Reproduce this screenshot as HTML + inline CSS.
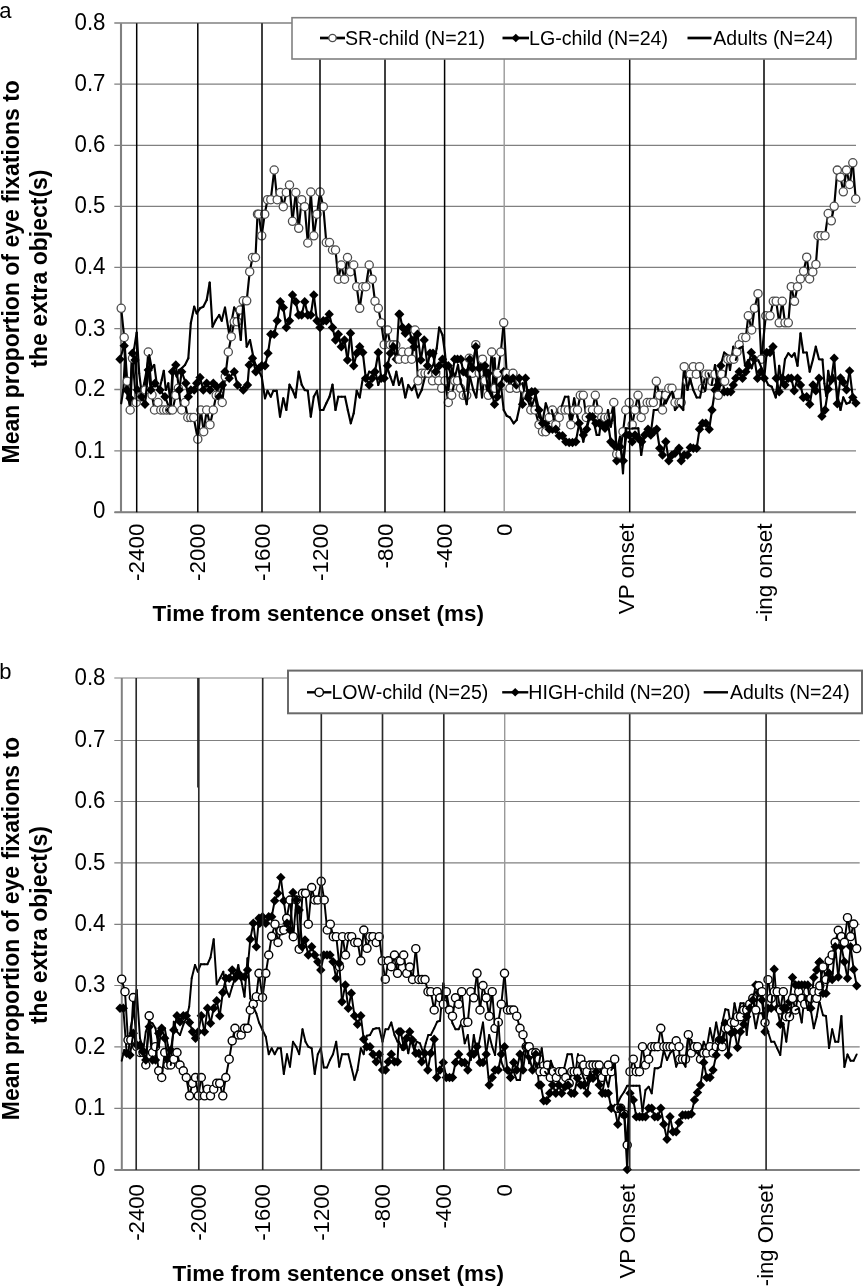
<!DOCTYPE html>
<html><head><meta charset="utf-8"><title>Figure</title>
<style>
html,body{margin:0;padding:0;background:#fff}
svg{display:block}
.g{stroke:#808080;stroke-width:1.5;fill:none}
.gv{stroke:#999;stroke-width:1.4;fill:none}
.ka{stroke:#000;stroke-width:1.5;fill:none}
.kb{stroke:#2a2a2a;stroke-width:1.65;fill:none}
.t{font-family:"Liberation Sans",Arial,Helvetica,sans-serif;font-size:22px;fill:#000}
.t23{font-family:"Liberation Sans",Arial,Helvetica,sans-serif;font-size:23px;fill:#000}
.lt{font-family:"Liberation Sans",Arial,Helvetica,sans-serif;font-size:19.6px;fill:#000}
.b{font-family:"Liberation Sans",Arial,Helvetica,sans-serif;font-size:22.3px;font-weight:bold;fill:#000}
.by{font-family:"Liberation Sans",Arial,Helvetica,sans-serif;font-size:23px;font-weight:bold;fill:#000}
.ga{stroke:#808080;stroke-width:1.3;fill:none}
.gb{stroke:#808080;stroke-width:1.2;fill:none}
.sa path,.sb path{stroke:#000;fill:none;stroke-linecap:round}
.sa path{stroke-width:2.15}
.sb path{stroke-width:1.95}
.sa path.d,.sb path.d{fill:#000;stroke:none}
.sa circle{fill:#fff;stroke:#4d4d4d;stroke-width:1.3}
.sb circle{fill:#fff;stroke:#000;stroke-width:1.4}
.lna{stroke:#000;stroke-width:2.2;fill:none;stroke-linejoin:round}
.lnb{stroke:#000;stroke-width:1.7;fill:none;stroke-linejoin:round}
.cia circle{fill:#fff;stroke:#4d4d4d;stroke-width:1.3}
.cib circle{fill:#fff;stroke:#000;stroke-width:1.4}
.di path{fill:#000;stroke:none}
</style></head><body>
<svg width="864" height="1287" viewBox="0 0 864 1287">
<rect width="864" height="1287" fill="#fff"/>
<g id="chart-a">
<line x1="114.3" y1="512.30" x2="856" y2="512.30" class="ga"/>
<line x1="114.3" y1="450.80" x2="856" y2="450.80" class="ga"/>
<line x1="114.3" y1="389.50" x2="856" y2="389.50" class="ga"/>
<line x1="114.3" y1="328.70" x2="856" y2="328.70" class="ga"/>
<line x1="114.3" y1="267.40" x2="856" y2="267.40" class="ga"/>
<line x1="114.3" y1="206.40" x2="856" y2="206.40" class="ga"/>
<line x1="114.3" y1="145.40" x2="856" y2="145.40" class="ga"/>
<line x1="114.3" y1="84.20" x2="856" y2="84.20" class="ga"/>
<line x1="114.3" y1="23.00" x2="856" y2="23.00" class="ga"/>
<line x1="121.0" y1="23.3" x2="121.0" y2="512.3" class="ga" style="stroke-width:2.1"/>
<line x1="114.5" y1="512.3" x2="856" y2="512.3" class="ga" style="stroke-width:2.1"/>
<line x1="504.2" y1="23.3" x2="504.2" y2="512.3" class="gv"/>
<text x="105.5" y="518.40" class="t23" text-anchor="end" textLength="12.4" lengthAdjust="spacingAndGlyphs">0</text>
<text x="105.5" y="457.60" class="t23" text-anchor="end" textLength="31.0" lengthAdjust="spacingAndGlyphs">0.1</text>
<text x="105.5" y="396.30" class="t23" text-anchor="end" textLength="31.0" lengthAdjust="spacingAndGlyphs">0.2</text>
<text x="105.5" y="335.50" class="t23" text-anchor="end" textLength="31.0" lengthAdjust="spacingAndGlyphs">0.3</text>
<text x="105.5" y="274.20" class="t23" text-anchor="end" textLength="31.0" lengthAdjust="spacingAndGlyphs">0.4</text>
<text x="105.5" y="213.20" class="t23" text-anchor="end" textLength="31.0" lengthAdjust="spacingAndGlyphs">0.5</text>
<text x="105.5" y="152.20" class="t23" text-anchor="end" textLength="31.0" lengthAdjust="spacingAndGlyphs">0.6</text>
<text x="105.5" y="91.00" class="t23" text-anchor="end" textLength="31.0" lengthAdjust="spacingAndGlyphs">0.7</text>
<text x="105.5" y="29.80" class="t23" text-anchor="end" textLength="31.0" lengthAdjust="spacingAndGlyphs">0.8</text>
<text transform="translate(144.3,523.6) rotate(-90)" class="t" text-anchor="end" textLength="57.4" lengthAdjust="spacingAndGlyphs">-2400</text>
<text transform="translate(205.4,523.6) rotate(-90)" class="t" text-anchor="end" textLength="57.4" lengthAdjust="spacingAndGlyphs">-2000</text>
<text transform="translate(269.6,523.6) rotate(-90)" class="t" text-anchor="end" textLength="57.4" lengthAdjust="spacingAndGlyphs">-1600</text>
<text transform="translate(327.6,523.6) rotate(-90)" class="t" text-anchor="end" textLength="57.4" lengthAdjust="spacingAndGlyphs">-1200</text>
<text transform="translate(392.6,523.6) rotate(-90)" class="t" text-anchor="end" textLength="44.9" lengthAdjust="spacingAndGlyphs">-800</text>
<text transform="translate(452.2,523.6) rotate(-90)" class="t" text-anchor="end" textLength="44.9" lengthAdjust="spacingAndGlyphs">-400</text>
<text transform="translate(511.8,523.6) rotate(-90)" class="t" text-anchor="end" textLength="12.5" lengthAdjust="spacingAndGlyphs">0</text>
<text transform="translate(634.1,523.6) rotate(-90)" class="t" text-anchor="end" textLength="90.7" lengthAdjust="spacingAndGlyphs">VP onset</text>
<text transform="translate(771.6,523.6) rotate(-90)" class="t" text-anchor="end" textLength="98.5" lengthAdjust="spacingAndGlyphs">-ing onset</text>
<text transform="translate(19.3,463.5) rotate(-90)" class="by">Mean proportion of eye fixations to</text>
<text transform="translate(47.1,367.6) rotate(-90)" class="by">the extra object(s)</text>
<text x="152.6" y="621" class="b" textLength="331.3" lengthAdjust="spacingAndGlyphs">Time from sentence onset (ms)</text>
<text x="-0.8" y="18" class="t">a</text>
<g class="sa">
<path d="M121.2,308.3L124.2,337.5"/><circle cx="121.2" cy="308.3" r="4.1"/><path d="M120.0,359.2L124.2,345.8"/><path class="d" d="M120.0,354.5l4.7,4.7l-4.7,4.7l-4.7,-4.7z"/><path d="M121.2,403.3L123.3,390.0"/><path d="M124.2,337.5L127.2,381.3"/><circle cx="124.2" cy="337.5" r="4.1"/><path d="M124.2,345.8L126.7,390.0"/><path class="d" d="M124.2,341.1l4.7,4.7l-4.7,4.7l-4.7,-4.7z"/><path d="M123.3,390.0L125.0,356.7"/><path d="M125.0,356.7L127.5,396.7"/><path d="M127.2,381.3L130.2,410.0"/><circle cx="127.2" cy="381.3" r="4.1"/><path d="M126.7,390.0L130.0,398.3"/><path class="d" d="M126.7,385.3l4.7,4.7l-4.7,4.7l-4.7,-4.7z"/><path d="M127.5,396.7L130.0,405.0"/><path d="M130.2,410.0L132.5,358.3"/><circle cx="130.2" cy="410.0" r="4.1"/><path d="M130.0,398.3L132.5,353.3"/><path class="d" d="M130.0,393.6l4.7,4.7l-4.7,4.7l-4.7,-4.7z"/><path d="M130.0,405.0L131.7,360.0"/><path d="M131.7,360.0L134.2,348.3"/><path d="M132.5,358.3L136.2,402.5"/><circle cx="132.5" cy="358.3" r="4.1"/><path d="M132.5,353.3L135.0,360.0"/><path class="d" d="M132.5,348.6l4.7,4.7l-4.7,4.7l-4.7,-4.7z"/><path d="M135.0,360.0L137.5,390.0"/><path class="d" d="M135.0,355.3l4.7,4.7l-4.7,4.7l-4.7,-4.7z"/><path d="M134.2,348.3L136.7,332.5"/><path d="M136.2,402.5L139.2,396.7"/><circle cx="136.2" cy="402.5" r="4.1"/><path d="M137.5,390.0L141.7,396.7"/><path class="d" d="M137.5,385.3l4.7,4.7l-4.7,4.7l-4.7,-4.7z"/><path d="M136.7,332.5L139.2,373.3"/><path d="M139.2,396.7L142.2,396.7"/><circle cx="139.2" cy="396.7" r="4.1"/><path d="M139.2,373.3L141.7,393.3"/><path d="M142.2,396.7L145.2,390.0"/><circle cx="142.2" cy="396.7" r="4.1"/><path d="M141.7,396.7L145.0,404.2"/><path class="d" d="M141.7,392.0l4.7,4.7l-4.7,4.7l-4.7,-4.7z"/><path d="M141.7,393.3L144.2,383.3"/><path d="M144.2,383.3L146.7,370.0"/><path d="M145.2,390.0L148.3,352.0"/><circle cx="145.2" cy="390.0" r="4.1"/><path d="M145.0,404.2L148.3,370.0"/><path class="d" d="M145.0,399.5l4.7,4.7l-4.7,4.7l-4.7,-4.7z"/><path d="M146.7,370.0L149.2,355.0"/><path d="M148.3,352.0L152.0,395.0"/><circle cx="148.3" cy="352.0" r="4.1"/><path d="M148.3,370.0L150.8,390.0"/><path class="d" d="M148.3,365.3l4.7,4.7l-4.7,4.7l-4.7,-4.7z"/><path d="M149.2,355.0L151.7,368.3"/><path d="M152.0,395.0L154.5,410.0"/><circle cx="152.0" cy="395.0" r="4.1"/><path d="M150.8,390.0L155.0,383.3"/><path class="d" d="M150.8,385.3l4.7,4.7l-4.7,4.7l-4.7,-4.7z"/><path d="M151.7,368.3L154.2,365.0"/><path d="M154.5,410.0L158.0,402.5"/><circle cx="154.5" cy="410.0" r="4.1"/><path d="M155.0,383.3L160.0,390.0"/><path class="d" d="M155.0,378.6l4.7,4.7l-4.7,4.7l-4.7,-4.7z"/><path d="M154.2,365.0L156.7,383.3"/><path d="M158.0,402.5L160.8,410.0"/><circle cx="158.0" cy="402.5" r="4.1"/><path d="M156.7,383.3L159.2,390.0"/><path d="M159.2,390.0L161.7,380.0"/><path d="M160.8,410.0L163.7,410.0"/><circle cx="160.8" cy="410.0" r="4.1"/><path d="M160.0,390.0L165.0,396.7"/><path class="d" d="M160.0,385.3l4.7,4.7l-4.7,4.7l-4.7,-4.7z"/><path d="M161.7,380.0L163.8,370.8"/><path d="M163.7,410.0L166.7,410.0"/><circle cx="163.7" cy="410.0" r="4.1"/><path d="M165.0,396.7L170.0,410.0"/><path class="d" d="M165.0,392.0l4.7,4.7l-4.7,4.7l-4.7,-4.7z"/><path d="M163.8,370.8L165.8,390.0"/><path d="M166.7,410.0L169.7,410.0"/><circle cx="166.7" cy="410.0" r="4.1"/><path d="M165.8,390.0L168.3,383.3"/><path d="M168.3,383.3L170.8,406.7"/><path d="M169.7,410.0L172.5,410.0"/><circle cx="169.7" cy="410.0" r="4.1"/><path d="M170.0,410.0L172.5,371.7"/><path class="d" d="M170.0,405.3l4.7,4.7l-4.7,4.7l-4.7,-4.7z"/><path d="M170.8,406.7L173.3,368.3"/><path d="M172.5,410.0L175.8,395.3"/><circle cx="172.5" cy="410.0" r="4.1"/><path d="M172.5,371.7L175.8,365.0"/><path class="d" d="M172.5,367.0l4.7,4.7l-4.7,4.7l-4.7,-4.7z"/><path d="M173.3,368.3L176.7,376.7"/><path d="M175.8,395.3L178.3,388.3"/><circle cx="175.8" cy="395.3" r="4.1"/><path d="M175.8,365.0L179.2,390.0"/><path class="d" d="M175.8,360.3l4.7,4.7l-4.7,4.7l-4.7,-4.7z"/><path d="M176.7,376.7L179.2,370.0"/><path d="M178.3,388.3L181.7,410.0"/><circle cx="178.3" cy="388.3" r="4.1"/><path d="M179.2,390.0L181.7,371.7"/><path class="d" d="M179.2,385.3l4.7,4.7l-4.7,4.7l-4.7,-4.7z"/><path d="M179.2,370.0L181.7,368.3"/><path d="M181.7,410.0L185.0,402.5"/><circle cx="181.7" cy="410.0" r="4.1"/><path d="M181.7,371.7L185.8,383.3"/><path class="d" d="M181.7,367.0l4.7,4.7l-4.7,4.7l-4.7,-4.7z"/><path d="M181.7,368.3L185.0,365.0"/><path d="M185.0,402.5L187.8,417.5"/><circle cx="185.0" cy="402.5" r="4.1"/><path d="M185.8,383.3L188.3,396.7"/><path class="d" d="M185.8,378.6l4.7,4.7l-4.7,4.7l-4.7,-4.7z"/><path d="M185.0,365.0L188.3,358.3"/><path d="M187.8,417.5L190.8,417.5"/><circle cx="187.8" cy="417.5" r="4.1"/><path d="M188.3,396.7L190.8,390.0"/><path class="d" d="M188.3,392.0l4.7,4.7l-4.7,4.7l-4.7,-4.7z"/><path d="M188.3,358.3L190.8,323.3"/><path d="M190.8,417.5L193.7,417.5"/><circle cx="190.8" cy="417.5" r="4.1"/><path d="M190.8,390.0L194.2,390.0"/><path class="d" d="M190.8,385.3l4.7,4.7l-4.7,4.7l-4.7,-4.7z"/><path d="M190.8,323.3L194.2,306.7"/><path d="M193.7,417.5L197.8,439.2"/><circle cx="193.7" cy="417.5" r="4.1"/><path d="M194.2,390.0L196.7,383.3"/><path class="d" d="M194.2,385.3l4.7,4.7l-4.7,4.7l-4.7,-4.7z"/><path d="M194.2,306.7L196.7,313.3"/><path d="M197.8,439.2L200.8,410.0"/><circle cx="197.8" cy="439.2" r="4.1"/><path d="M196.7,383.3L200.0,377.5"/><path class="d" d="M196.7,378.6l4.7,4.7l-4.7,4.7l-4.7,-4.7z"/><path d="M196.7,313.3L200.0,308.3"/><path d="M200.8,410.0L203.7,431.7"/><circle cx="200.8" cy="410.0" r="4.1"/><path d="M200.0,377.5L203.3,390.0"/><path class="d" d="M200.0,372.8l4.7,4.7l-4.7,4.7l-4.7,-4.7z"/><path d="M200.0,308.3L203.3,306.7"/><path d="M203.7,431.7L206.7,410.0"/><circle cx="203.7" cy="431.7" r="4.1"/><path d="M203.3,390.0L206.7,383.3"/><path class="d" d="M203.3,385.3l4.7,4.7l-4.7,4.7l-4.7,-4.7z"/><path d="M203.3,306.7L206.7,300.0"/><path d="M206.7,410.0L210.0,424.7"/><circle cx="206.7" cy="410.0" r="4.1"/><path d="M206.7,383.3L210.0,390.0"/><path class="d" d="M206.7,378.6l4.7,4.7l-4.7,4.7l-4.7,-4.7z"/><path d="M206.7,300.0L209.7,282.5"/><path d="M210.0,424.7L213.3,410.0"/><circle cx="210.0" cy="424.7" r="4.1"/><path d="M210.0,390.0L213.3,383.3"/><path class="d" d="M210.0,385.3l4.7,4.7l-4.7,4.7l-4.7,-4.7z"/><path d="M209.7,282.5L212.5,326.7"/><path d="M213.3,410.0L216.2,395.3"/><circle cx="213.3" cy="410.0" r="4.1"/><path d="M213.3,383.3L216.7,386.7"/><path class="d" d="M213.3,378.6l4.7,4.7l-4.7,4.7l-4.7,-4.7z"/><path d="M212.5,326.7L215.8,320.0"/><path d="M216.2,395.3L219.2,395.3"/><circle cx="216.2" cy="395.3" r="4.1"/><path d="M216.7,386.7L219.2,396.7"/><path class="d" d="M216.7,382.0l4.7,4.7l-4.7,4.7l-4.7,-4.7z"/><path d="M215.8,320.0L219.2,315.0"/><path d="M219.2,395.3L222.2,402.5"/><circle cx="219.2" cy="395.3" r="4.1"/><path d="M219.2,396.7L222.5,385.0"/><path class="d" d="M219.2,392.0l4.7,4.7l-4.7,4.7l-4.7,-4.7z"/><path d="M219.2,315.0L221.7,320.8"/><path d="M222.2,402.5L225.3,376.7"/><circle cx="222.2" cy="402.5" r="4.1"/><path d="M222.5,385.0L225.0,371.7"/><path class="d" d="M222.5,380.3l4.7,4.7l-4.7,4.7l-4.7,-4.7z"/><path d="M221.7,320.8L225.0,307.5"/><path d="M225.3,376.7L228.3,352.0"/><circle cx="225.3" cy="376.7" r="4.1"/><path d="M225.0,371.7L229.2,378.3"/><path class="d" d="M225.0,367.0l4.7,4.7l-4.7,4.7l-4.7,-4.7z"/><path d="M225.0,307.5L229.2,334.2"/><path d="M228.3,352.0L231.3,336.7"/><circle cx="228.3" cy="352.0" r="4.1"/><path d="M229.2,378.3L234.2,371.7"/><path class="d" d="M229.2,373.6l4.7,4.7l-4.7,4.7l-4.7,-4.7z"/><path d="M229.2,334.2L234.2,307.5"/><path d="M231.3,336.7L234.2,321.7"/><circle cx="231.3" cy="336.7" r="4.1"/><path d="M234.2,321.7L237.2,321.7"/><circle cx="234.2" cy="321.7" r="4.1"/><path d="M234.2,371.7L237.5,385.0"/><path class="d" d="M234.2,367.0l4.7,4.7l-4.7,4.7l-4.7,-4.7z"/><path d="M234.2,307.5L237.5,313.3"/><path d="M237.2,321.7L240.3,310.0"/><circle cx="237.2" cy="321.7" r="4.1"/><path d="M237.5,385.0L243.3,390.0"/><path class="d" d="M237.5,380.3l4.7,4.7l-4.7,4.7l-4.7,-4.7z"/><path d="M237.5,313.3L240.8,340.0"/><path d="M240.3,310.0L243.3,300.8"/><circle cx="240.3" cy="310.0" r="4.1"/><path d="M240.8,340.0L243.3,301.7"/><path d="M243.3,300.8L246.7,300.8"/><circle cx="243.3" cy="300.8" r="4.1"/><path d="M243.3,390.0L247.5,385.0"/><path class="d" d="M243.3,385.3l4.7,4.7l-4.7,4.7l-4.7,-4.7z"/><path d="M243.3,301.7L246.7,346.7"/><path d="M246.7,300.8L249.7,271.7"/><circle cx="246.7" cy="300.8" r="4.1"/><path d="M247.5,385.0L249.2,365.0"/><path class="d" d="M247.5,380.3l4.7,4.7l-4.7,4.7l-4.7,-4.7z"/><path d="M246.7,346.7L250.0,340.0"/><path d="M249.7,271.7L252.5,257.5"/><circle cx="249.7" cy="271.7" r="4.1"/><path d="M249.2,365.0L252.5,358.3"/><path class="d" d="M249.2,360.3l4.7,4.7l-4.7,4.7l-4.7,-4.7z"/><path d="M250.0,340.0L253.3,356.7"/><path d="M252.5,257.5L255.5,257.5"/><circle cx="252.5" cy="257.5" r="4.1"/><path d="M252.5,358.3L255.8,371.7"/><path class="d" d="M252.5,353.6l4.7,4.7l-4.7,4.7l-4.7,-4.7z"/><path d="M253.3,356.7L255.0,363.3"/><path d="M255.5,257.5L257.5,214.2"/><circle cx="255.5" cy="257.5" r="4.1"/><path d="M257.5,214.2L258.7,214.2"/><circle cx="257.5" cy="214.2" r="4.1"/><path d="M255.8,371.7L259.0,368.3"/><path class="d" d="M255.8,367.0l4.7,4.7l-4.7,4.7l-4.7,-4.7z"/><path d="M255.0,363.3L261.7,376.7"/><path d="M258.7,214.2L261.7,235.8"/><circle cx="258.7" cy="214.2" r="4.1"/><path d="M259.0,368.3L261.7,365.8"/><path class="d" d="M259.0,363.6l4.7,4.7l-4.7,4.7l-4.7,-4.7z"/><path d="M261.7,235.8L264.7,214.2"/><circle cx="261.7" cy="235.8" r="4.1"/><path d="M261.7,365.8L265.0,365.8"/><path class="d" d="M261.7,361.1l4.7,4.7l-4.7,4.7l-4.7,-4.7z"/><path d="M261.7,376.7L265.0,398.3"/><path d="M264.7,214.2L267.5,199.7"/><circle cx="264.7" cy="214.2" r="4.1"/><path d="M265.0,365.8L268.0,353.3"/><path class="d" d="M265.0,361.1l4.7,4.7l-4.7,4.7l-4.7,-4.7z"/><path d="M265.0,398.3L267.5,390.8"/><path d="M267.5,199.7L270.8,199.7"/><circle cx="267.5" cy="199.7" r="4.1"/><path d="M268.0,353.3L270.8,334.2"/><path class="d" d="M268.0,348.6l4.7,4.7l-4.7,4.7l-4.7,-4.7z"/><path d="M267.5,390.8L270.8,396.7"/><path d="M270.8,199.7L274.2,170.0"/><circle cx="270.8" cy="199.7" r="4.1"/><path d="M270.8,334.2L274.2,334.2"/><path class="d" d="M270.8,329.5l4.7,4.7l-4.7,4.7l-4.7,-4.7z"/><path d="M270.8,396.7L273.3,390.8"/><path d="M274.2,170.0L277.2,199.7"/><circle cx="274.2" cy="170.0" r="4.1"/><path d="M274.2,334.2L277.2,320.8"/><path class="d" d="M274.2,329.5l4.7,4.7l-4.7,4.7l-4.7,-4.7z"/><path d="M273.3,390.8L276.7,390.8"/><path d="M277.2,199.7L280.3,192.5"/><circle cx="277.2" cy="199.7" r="4.1"/><path d="M277.2,320.8L280.3,301.7"/><path class="d" d="M277.2,316.1l4.7,4.7l-4.7,4.7l-4.7,-4.7z"/><path d="M276.7,390.8L280.0,416.7"/><path d="M280.3,192.5L283.3,206.7"/><circle cx="280.3" cy="192.5" r="4.1"/><path d="M280.3,301.7L283.3,307.5"/><path class="d" d="M280.3,297.0l4.7,4.7l-4.7,4.7l-4.7,-4.7z"/><path d="M280.0,416.7L283.3,398.3"/><path d="M283.3,206.7L286.3,192.5"/><circle cx="283.3" cy="206.7" r="4.1"/><path d="M283.3,307.5L286.3,327.5"/><path class="d" d="M283.3,302.8l4.7,4.7l-4.7,4.7l-4.7,-4.7z"/><path d="M283.3,398.3L286.3,410.0"/><path d="M286.3,192.5L289.5,185.0"/><circle cx="286.3" cy="192.5" r="4.1"/><path d="M286.3,327.5L289.5,320.8"/><path class="d" d="M286.3,322.8l4.7,4.7l-4.7,4.7l-4.7,-4.7z"/><path d="M286.3,410.0L289.5,384.7"/><path d="M289.5,185.0L292.5,221.3"/><circle cx="289.5" cy="185.0" r="4.1"/><path d="M289.5,320.8L292.5,295.0"/><path class="d" d="M289.5,316.1l4.7,4.7l-4.7,4.7l-4.7,-4.7z"/><path d="M289.5,384.7L292.5,390.0"/><path d="M292.5,221.3L295.8,192.5"/><circle cx="292.5" cy="221.3" r="4.1"/><path d="M292.5,295.0L295.8,301.7"/><path class="d" d="M292.5,290.3l4.7,4.7l-4.7,4.7l-4.7,-4.7z"/><path d="M292.5,390.0L295.5,397.5"/><path d="M295.8,192.5L298.7,228.3"/><circle cx="295.8" cy="192.5" r="4.1"/><path d="M295.8,301.7L298.7,315.0"/><path class="d" d="M295.8,297.0l4.7,4.7l-4.7,4.7l-4.7,-4.7z"/><path d="M295.5,397.5L298.7,371.7"/><path d="M298.7,228.3L301.7,199.7"/><circle cx="298.7" cy="228.3" r="4.1"/><path d="M298.7,315.0L301.7,315.0"/><path class="d" d="M298.7,310.3l4.7,4.7l-4.7,4.7l-4.7,-4.7z"/><path d="M298.7,371.7L301.7,384.7"/><path d="M301.7,199.7L304.7,206.7"/><circle cx="301.7" cy="199.7" r="4.1"/><path d="M301.7,315.0L304.7,301.7"/><path class="d" d="M301.7,310.3l4.7,4.7l-4.7,4.7l-4.7,-4.7z"/><path d="M301.7,384.7L304.7,390.0"/><path d="M304.7,206.7L307.8,243.0"/><circle cx="304.7" cy="206.7" r="4.1"/><path d="M304.7,301.7L307.8,315.0"/><path class="d" d="M304.7,297.0l4.7,4.7l-4.7,4.7l-4.7,-4.7z"/><path d="M304.7,390.0L307.8,390.8"/><path d="M307.8,243.0L310.8,192.0"/><circle cx="307.8" cy="243.0" r="4.1"/><path d="M307.8,315.0L310.8,315.0"/><path class="d" d="M307.8,310.3l4.7,4.7l-4.7,4.7l-4.7,-4.7z"/><path d="M307.8,390.8L310.8,416.7"/><path d="M310.8,192.0L313.8,235.8"/><circle cx="310.8" cy="192.0" r="4.1"/><path d="M310.8,315.0L313.8,295.0"/><path class="d" d="M310.8,310.3l4.7,4.7l-4.7,4.7l-4.7,-4.7z"/><path d="M310.8,416.7L313.8,396.7"/><path d="M313.8,235.8L317.0,214.2"/><circle cx="313.8" cy="235.8" r="4.1"/><path d="M313.8,295.0L317.0,320.8"/><path class="d" d="M313.8,290.3l4.7,4.7l-4.7,4.7l-4.7,-4.7z"/><path d="M313.8,396.7L317.0,390.8"/><path d="M317.0,214.2L320.0,192.0"/><circle cx="317.0" cy="214.2" r="4.1"/><path d="M317.0,320.8L320.0,327.5"/><path class="d" d="M317.0,316.1l4.7,4.7l-4.7,4.7l-4.7,-4.7z"/><path d="M317.0,390.8L320.0,410.0"/><path d="M320.0,192.0L323.3,206.7"/><circle cx="320.0" cy="192.0" r="4.1"/><path d="M320.0,327.5L323.3,320.8"/><path class="d" d="M320.0,322.8l4.7,4.7l-4.7,4.7l-4.7,-4.7z"/><path d="M320.0,410.0L323.3,410.0"/><path d="M323.3,206.7L326.3,242.5"/><circle cx="323.3" cy="206.7" r="4.1"/><path d="M323.3,320.8L326.3,320.8"/><path class="d" d="M323.3,316.1l4.7,4.7l-4.7,4.7l-4.7,-4.7z"/><path d="M323.3,410.0L326.3,403.3"/><path d="M326.3,242.5L329.5,242.5"/><circle cx="326.3" cy="242.5" r="4.1"/><path d="M326.3,320.8L329.2,314.2"/><path class="d" d="M326.3,316.1l4.7,4.7l-4.7,4.7l-4.7,-4.7z"/><path d="M326.3,403.3L329.5,396.7"/><path d="M329.5,242.5L332.5,250.0"/><circle cx="329.5" cy="242.5" r="4.1"/><path d="M329.2,314.2L332.5,327.5"/><path class="d" d="M329.2,309.5l4.7,4.7l-4.7,4.7l-4.7,-4.7z"/><path d="M329.5,396.7L332.5,384.7"/><path d="M332.5,250.0L335.5,250.0"/><circle cx="332.5" cy="250.0" r="4.1"/><path d="M332.5,327.5L335.5,340.0"/><path class="d" d="M332.5,322.8l4.7,4.7l-4.7,4.7l-4.7,-4.7z"/><path d="M332.5,384.7L335.5,410.0"/><path d="M335.5,250.0L338.3,279.2"/><circle cx="335.5" cy="250.0" r="4.1"/><path d="M335.5,340.0L338.3,334.2"/><path class="d" d="M335.5,335.3l4.7,4.7l-4.7,4.7l-4.7,-4.7z"/><path d="M335.5,410.0L338.3,396.7"/><path d="M338.3,279.2L341.3,265.0"/><circle cx="338.3" cy="279.2" r="4.1"/><path d="M338.3,334.2L341.3,346.7"/><path class="d" d="M338.3,329.5l4.7,4.7l-4.7,4.7l-4.7,-4.7z"/><path d="M338.3,396.7L341.7,396.7"/><path d="M341.3,265.0L344.5,279.2"/><circle cx="341.3" cy="265.0" r="4.1"/><path d="M341.3,346.7L344.5,340.0"/><path class="d" d="M341.3,342.0l4.7,4.7l-4.7,4.7l-4.7,-4.7z"/><path d="M341.7,396.7L345.0,396.7"/><path d="M344.5,279.2L347.5,257.5"/><circle cx="344.5" cy="279.2" r="4.1"/><path d="M344.5,340.0L347.5,360.0"/><path class="d" d="M344.5,335.3l4.7,4.7l-4.7,4.7l-4.7,-4.7z"/><path d="M345.0,396.7L347.8,410.0"/><path d="M347.5,257.5L350.5,271.7"/><circle cx="347.5" cy="257.5" r="4.1"/><path d="M347.5,360.0L350.5,333.3"/><path class="d" d="M347.5,355.3l4.7,4.7l-4.7,4.7l-4.7,-4.7z"/><path d="M347.8,410.0L350.8,423.3"/><path d="M350.5,271.7L353.7,265.0"/><circle cx="350.5" cy="271.7" r="4.1"/><path d="M350.5,333.3L353.7,365.8"/><path class="d" d="M350.5,328.6l4.7,4.7l-4.7,4.7l-4.7,-4.7z"/><path d="M350.8,423.3L353.7,413.3"/><path d="M353.7,265.0L356.7,286.7"/><circle cx="353.7" cy="265.0" r="4.1"/><path d="M353.7,365.8L356.7,353.3"/><path class="d" d="M353.7,361.1l4.7,4.7l-4.7,4.7l-4.7,-4.7z"/><path d="M353.7,413.3L356.7,390.8"/><path d="M356.7,286.7L359.7,308.3"/><circle cx="356.7" cy="286.7" r="4.1"/><path d="M356.7,353.3L359.7,346.7"/><path class="d" d="M356.7,348.6l4.7,4.7l-4.7,4.7l-4.7,-4.7z"/><path d="M356.7,390.8L359.7,397.5"/><path d="M359.7,308.3L362.8,286.7"/><circle cx="359.7" cy="308.3" r="4.1"/><path d="M359.7,346.7L362.8,352.5"/><path class="d" d="M359.7,342.0l4.7,4.7l-4.7,4.7l-4.7,-4.7z"/><path d="M359.7,397.5L362.8,378.3"/><path d="M362.8,286.7L365.8,286.7"/><circle cx="362.8" cy="286.7" r="4.1"/><path d="M362.8,352.5L365.8,378.3"/><path class="d" d="M362.8,347.8l4.7,4.7l-4.7,4.7l-4.7,-4.7z"/><path d="M362.8,378.3L365.8,380.8"/><path d="M365.8,286.7L369.2,265.0"/><circle cx="365.8" cy="286.7" r="4.1"/><path d="M365.8,378.3L369.2,385.0"/><path class="d" d="M365.8,373.6l4.7,4.7l-4.7,4.7l-4.7,-4.7z"/><path d="M365.8,380.8L369.2,371.7"/><path d="M369.2,265.0L372.2,279.2"/><circle cx="369.2" cy="265.0" r="4.1"/><path d="M369.2,385.0L372.2,378.3"/><path class="d" d="M369.2,380.3l4.7,4.7l-4.7,4.7l-4.7,-4.7z"/><path d="M369.2,371.7L372.2,373.3"/><path d="M372.2,279.2L375.0,301.3"/><circle cx="372.2" cy="279.2" r="4.1"/><path d="M372.2,378.3L375.0,371.7"/><path class="d" d="M372.2,373.6l4.7,4.7l-4.7,4.7l-4.7,-4.7z"/><path d="M372.2,373.3L375.0,370.0"/><path d="M375.0,301.3L378.3,308.3"/><circle cx="375.0" cy="301.3" r="4.1"/><path d="M375.0,371.7L378.3,352.5"/><path class="d" d="M375.0,367.0l4.7,4.7l-4.7,4.7l-4.7,-4.7z"/><path d="M375.0,370.0L378.3,385.0"/><path d="M378.3,308.3L381.2,322.8"/><circle cx="378.3" cy="308.3" r="4.1"/><path d="M378.3,352.5L381.2,378.3"/><path class="d" d="M378.3,347.8l4.7,4.7l-4.7,4.7l-4.7,-4.7z"/><path d="M378.3,385.0L381.2,376.7"/><path d="M381.2,322.8L384.2,344.7"/><circle cx="381.2" cy="322.8" r="4.1"/><path d="M381.2,378.3L384.2,378.3"/><path class="d" d="M381.2,373.6l4.7,4.7l-4.7,4.7l-4.7,-4.7z"/><path d="M381.2,376.7L384.2,380.0"/><path d="M384.2,344.7L387.5,330.0"/><circle cx="384.2" cy="344.7" r="4.1"/><path d="M384.2,378.3L387.5,365.8"/><path class="d" d="M384.2,373.6l4.7,4.7l-4.7,4.7l-4.7,-4.7z"/><path d="M384.2,380.0L387.5,368.3"/><path d="M387.5,330.0L390.3,344.7"/><circle cx="387.5" cy="330.0" r="4.1"/><path d="M387.5,365.8L390.3,353.3"/><path class="d" d="M387.5,361.1l4.7,4.7l-4.7,4.7l-4.7,-4.7z"/><path d="M387.5,368.3L390.3,376.7"/><path d="M390.3,344.7L393.3,344.7"/><circle cx="390.3" cy="344.7" r="4.1"/><path d="M390.3,353.3L393.3,346.7"/><path class="d" d="M390.3,348.6l4.7,4.7l-4.7,4.7l-4.7,-4.7z"/><path d="M390.3,376.7L393.3,385.0"/><path d="M393.3,344.7L395.8,345.0"/><circle cx="393.3" cy="344.7" r="4.1"/><path d="M395.8,345.0L399.2,359.2"/><circle cx="395.8" cy="345.0" r="4.1"/><path d="M393.3,346.7L396.3,359.2"/><path class="d" d="M393.3,342.0l4.7,4.7l-4.7,4.7l-4.7,-4.7z"/><path d="M393.3,385.0L396.3,371.7"/><path d="M396.3,359.2L399.0,314.2"/><path class="d" d="M396.3,354.5l4.7,4.7l-4.7,4.7l-4.7,-4.7z"/><path d="M399.0,314.2L399.7,314.2"/><path class="d" d="M399.0,309.5l4.7,4.7l-4.7,4.7l-4.7,-4.7z"/><path d="M396.3,371.7L399.0,385.0"/><path d="M399.0,385.0L401.7,378.3"/><path d="M399.2,359.2L402.5,352.0"/><circle cx="399.2" cy="359.2" r="4.1"/><path d="M399.7,314.2L402.5,327.5"/><path class="d" d="M399.7,309.5l4.7,4.7l-4.7,4.7l-4.7,-4.7z"/><path d="M401.7,378.3L405.3,397.5"/><path d="M402.5,352.0L405.3,359.2"/><circle cx="402.5" cy="352.0" r="4.1"/><path d="M402.5,327.5L405.3,333.3"/><path class="d" d="M402.5,322.8l4.7,4.7l-4.7,4.7l-4.7,-4.7z"/><path d="M405.3,359.2L408.7,352.0"/><circle cx="405.3" cy="359.2" r="4.1"/><path d="M405.3,333.3L408.7,327.5"/><path class="d" d="M405.3,328.6l4.7,4.7l-4.7,4.7l-4.7,-4.7z"/><path d="M405.3,397.5L408.3,385.0"/><path d="M408.3,385.0L411.7,390.0"/><path d="M408.7,352.0L411.7,359.2"/><circle cx="408.7" cy="352.0" r="4.1"/><path d="M408.7,327.5L411.7,340.0"/><path class="d" d="M408.7,322.8l4.7,4.7l-4.7,4.7l-4.7,-4.7z"/><path d="M411.7,359.2L415.0,330.0"/><circle cx="411.7" cy="359.2" r="4.1"/><path d="M411.7,340.0L414.2,346.7"/><path class="d" d="M411.7,335.3l4.7,4.7l-4.7,4.7l-4.7,-4.7z"/><path d="M414.2,346.7L417.5,334.2"/><path class="d" d="M414.2,342.0l4.7,4.7l-4.7,4.7l-4.7,-4.7z"/><path d="M411.7,390.0L414.7,385.0"/><path d="M415.0,330.0L418.0,380.8"/><circle cx="415.0" cy="330.0" r="4.1"/><path d="M417.5,334.2L420.8,360.0"/><path class="d" d="M417.5,329.5l4.7,4.7l-4.7,4.7l-4.7,-4.7z"/><path d="M414.7,385.0L418.0,397.5"/><path d="M418.0,380.8L421.7,373.3"/><circle cx="418.0" cy="380.8" r="4.1"/><path d="M418.0,397.5L421.7,390.0"/><path d="M421.7,373.3L425.0,373.3"/><circle cx="421.7" cy="373.3" r="4.1"/><path d="M420.8,360.0L424.2,340.0"/><path class="d" d="M420.8,355.3l4.7,4.7l-4.7,4.7l-4.7,-4.7z"/><path d="M421.7,390.0L425.0,376.7"/><path d="M425.0,373.3L428.3,373.3"/><circle cx="425.0" cy="373.3" r="4.1"/><path d="M424.2,340.0L427.5,365.8"/><path class="d" d="M424.2,335.3l4.7,4.7l-4.7,4.7l-4.7,-4.7z"/><path d="M425.0,376.7L428.3,373.3"/><path d="M428.3,373.3L432.5,380.8"/><circle cx="428.3" cy="373.3" r="4.1"/><path d="M427.5,365.8L430.0,353.3"/><path class="d" d="M427.5,361.1l4.7,4.7l-4.7,4.7l-4.7,-4.7z"/><path d="M428.3,373.3L433.3,365.0"/><path d="M432.5,380.8L435.8,373.3"/><circle cx="432.5" cy="380.8" r="4.1"/><path d="M430.0,353.3L433.0,353.3"/><path class="d" d="M430.0,348.6l4.7,4.7l-4.7,4.7l-4.7,-4.7z"/><path d="M435.8,373.3L438.7,380.8"/><circle cx="435.8" cy="373.3" r="4.1"/><path d="M433.0,353.3L435.8,371.7"/><path class="d" d="M433.0,348.6l4.7,4.7l-4.7,4.7l-4.7,-4.7z"/><path d="M435.8,371.7L439.2,365.8"/><path class="d" d="M435.8,367.0l4.7,4.7l-4.7,4.7l-4.7,-4.7z"/><path d="M433.3,365.0L436.7,348.3"/><path d="M438.7,380.8L441.7,388.3"/><circle cx="438.7" cy="380.8" r="4.1"/><path d="M436.7,348.3L439.2,327.5"/><path d="M441.7,388.3L445.0,380.8"/><circle cx="441.7" cy="388.3" r="4.1"/><path d="M439.2,365.8L442.5,359.2"/><path class="d" d="M439.2,361.1l4.7,4.7l-4.7,4.7l-4.7,-4.7z"/><path d="M439.2,327.5L442.5,335.0"/><path d="M445.0,380.8L448.3,402.5"/><circle cx="445.0" cy="380.8" r="4.1"/><path d="M442.5,359.2L445.8,365.8"/><path class="d" d="M442.5,354.5l4.7,4.7l-4.7,4.7l-4.7,-4.7z"/><path d="M442.5,335.0L445.0,353.3"/><path d="M445.0,353.3L448.3,390.0"/><path d="M445.8,365.8L448.3,365.8"/><path class="d" d="M445.8,361.1l4.7,4.7l-4.7,4.7l-4.7,-4.7z"/><path d="M448.3,402.5L451.7,395.3"/><circle cx="448.3" cy="402.5" r="4.1"/><path d="M448.3,365.8L451.7,378.3"/><path class="d" d="M448.3,361.1l4.7,4.7l-4.7,4.7l-4.7,-4.7z"/><path d="M448.3,390.0L451.7,368.3"/><path d="M451.7,395.3L454.7,380.8"/><circle cx="451.7" cy="395.3" r="4.1"/><path d="M451.7,378.3L454.7,359.2"/><path class="d" d="M451.7,373.6l4.7,4.7l-4.7,4.7l-4.7,-4.7z"/><path d="M451.7,368.3L455.0,376.7"/><path d="M454.7,380.8L457.5,380.8"/><circle cx="454.7" cy="380.8" r="4.1"/><path d="M454.7,359.2L457.5,359.2"/><path class="d" d="M454.7,354.5l4.7,4.7l-4.7,4.7l-4.7,-4.7z"/><path d="M455.0,376.7L458.0,365.0"/><path d="M457.5,380.8L460.5,388.3"/><circle cx="457.5" cy="380.8" r="4.1"/><path d="M460.5,388.3L463.3,395.3"/><circle cx="460.5" cy="388.3" r="4.1"/><path d="M457.5,359.2L460.8,359.2"/><path class="d" d="M457.5,354.5l4.7,4.7l-4.7,4.7l-4.7,-4.7z"/><path d="M458.0,365.0L460.8,383.3"/><path d="M463.3,395.3L466.7,395.3"/><circle cx="463.3" cy="395.3" r="4.1"/><path d="M460.8,359.2L463.3,371.7"/><path class="d" d="M460.8,354.5l4.7,4.7l-4.7,4.7l-4.7,-4.7z"/><path d="M463.3,371.7L466.7,373.3"/><path class="d" d="M463.3,367.0l4.7,4.7l-4.7,4.7l-4.7,-4.7z"/><path d="M460.8,383.3L463.7,390.0"/><path d="M466.7,395.3L469.2,358.3"/><circle cx="466.7" cy="395.3" r="4.1"/><path d="M466.7,373.3L469.7,359.2"/><path class="d" d="M466.7,368.6l4.7,4.7l-4.7,4.7l-4.7,-4.7z"/><path d="M463.7,390.0L466.7,404.2"/><path d="M466.7,404.2L470.0,376.7"/><path d="M469.2,358.3L472.5,373.3"/><circle cx="469.2" cy="358.3" r="4.1"/><path d="M469.7,359.2L472.5,368.3"/><path class="d" d="M469.7,354.5l4.7,4.7l-4.7,4.7l-4.7,-4.7z"/><path d="M472.5,373.3L475.8,344.7"/><circle cx="472.5" cy="373.3" r="4.1"/><path d="M472.5,368.3L475.8,346.7"/><path class="d" d="M472.5,363.6l4.7,4.7l-4.7,4.7l-4.7,-4.7z"/><path d="M470.0,376.7L473.3,390.0"/><path d="M475.8,344.7L479.2,373.3"/><circle cx="475.8" cy="344.7" r="4.1"/><path d="M475.8,346.7L479.2,368.3"/><path class="d" d="M475.8,342.0l4.7,4.7l-4.7,4.7l-4.7,-4.7z"/><path d="M473.3,390.0L476.3,397.5"/><path d="M476.3,397.5L479.2,370.0"/><path d="M479.2,373.3L482.5,359.2"/><circle cx="479.2" cy="373.3" r="4.1"/><path d="M479.2,368.3L482.0,365.8"/><path class="d" d="M479.2,363.6l4.7,4.7l-4.7,4.7l-4.7,-4.7z"/><path d="M482.0,365.8L485.0,365.8"/><path class="d" d="M482.0,361.1l4.7,4.7l-4.7,4.7l-4.7,-4.7z"/><path d="M479.2,370.0L482.0,397.5"/><path d="M482.0,397.5L485.0,368.3"/><path d="M482.5,359.2L485.0,380.8"/><circle cx="482.5" cy="359.2" r="4.1"/><path d="M485.0,380.8L488.3,395.3"/><circle cx="485.0" cy="380.8" r="4.1"/><path d="M485.0,365.8L488.3,373.3"/><path class="d" d="M485.0,361.1l4.7,4.7l-4.7,4.7l-4.7,-4.7z"/><path d="M485.0,368.3L488.3,390.0"/><path d="M488.3,395.3L491.7,352.0"/><circle cx="488.3" cy="395.3" r="4.1"/><path d="M488.3,373.3L491.3,390.0"/><path class="d" d="M488.3,368.6l4.7,4.7l-4.7,4.7l-4.7,-4.7z"/><path d="M488.3,390.0L491.7,396.7"/><path d="M491.7,352.0L495.0,388.3"/><circle cx="491.7" cy="352.0" r="4.1"/><path d="M491.3,390.0L494.5,404.2"/><path class="d" d="M491.3,385.3l4.7,4.7l-4.7,4.7l-4.7,-4.7z"/><path d="M491.7,396.7L494.5,358.3"/><path d="M495.0,388.3L497.5,373.3"/><circle cx="495.0" cy="388.3" r="4.1"/><path d="M494.5,404.2L497.5,396.7"/><path class="d" d="M494.5,399.5l4.7,4.7l-4.7,4.7l-4.7,-4.7z"/><path d="M494.5,358.3L497.5,398.3"/><path d="M497.5,373.3L500.8,352.0"/><circle cx="497.5" cy="373.3" r="4.1"/><path d="M497.5,396.7L500.8,385.0"/><path class="d" d="M497.5,392.0l4.7,4.7l-4.7,4.7l-4.7,-4.7z"/><path d="M497.5,398.3L500.8,383.3"/><path d="M500.8,352.0L503.7,322.8"/><circle cx="500.8" cy="352.0" r="4.1"/><path d="M500.8,385.0L503.7,371.7"/><path class="d" d="M500.8,380.3l4.7,4.7l-4.7,4.7l-4.7,-4.7z"/><path d="M500.8,383.3L503.7,410.0"/><path d="M503.7,322.8L506.7,373.3"/><circle cx="503.7" cy="322.8" r="4.1"/><path d="M503.7,371.7L506.7,378.3"/><path class="d" d="M503.7,367.0l4.7,4.7l-4.7,4.7l-4.7,-4.7z"/><path d="M503.7,410.0L506.7,415.8"/><path d="M506.7,373.3L510.0,388.3"/><circle cx="506.7" cy="373.3" r="4.1"/><path d="M506.7,378.3L510.0,378.3"/><path class="d" d="M506.7,373.6l4.7,4.7l-4.7,4.7l-4.7,-4.7z"/><path d="M506.7,415.8L510.0,417.5"/><path d="M510.0,388.3L513.0,373.3"/><circle cx="510.0" cy="388.3" r="4.1"/><path d="M510.0,378.3L513.0,378.3"/><path class="d" d="M510.0,373.6l4.7,4.7l-4.7,4.7l-4.7,-4.7z"/><path d="M510.0,417.5L513.7,423.3"/><path d="M513.0,373.3L516.7,388.3"/><circle cx="513.0" cy="373.3" r="4.1"/><path d="M513.0,378.3L516.3,385.0"/><path class="d" d="M513.0,373.6l4.7,4.7l-4.7,4.7l-4.7,-4.7z"/><path d="M513.7,423.3L516.7,420.0"/><path d="M516.7,388.3L520.0,380.8"/><circle cx="516.7" cy="388.3" r="4.1"/><path d="M516.3,385.0L519.2,378.3"/><path class="d" d="M516.3,380.3l4.7,4.7l-4.7,4.7l-4.7,-4.7z"/><path d="M516.7,420.0L520.0,405.0"/><path d="M520.0,380.8L523.3,388.3"/><circle cx="520.0" cy="380.8" r="4.1"/><path d="M519.2,378.3L522.5,404.2"/><path class="d" d="M519.2,373.6l4.7,4.7l-4.7,4.7l-4.7,-4.7z"/><path d="M520.0,405.0L522.5,383.3"/><path d="M523.3,388.3L526.7,395.3"/><circle cx="523.3" cy="388.3" r="4.1"/><path d="M522.5,404.2L525.5,378.3"/><path class="d" d="M522.5,399.5l4.7,4.7l-4.7,4.7l-4.7,-4.7z"/><path d="M522.5,383.3L525.5,396.7"/><path d="M526.7,395.3L530.8,410.0"/><circle cx="526.7" cy="395.3" r="4.1"/><path d="M525.5,378.3L528.3,398.3"/><path class="d" d="M525.5,373.6l4.7,4.7l-4.7,4.7l-4.7,-4.7z"/><path d="M525.5,396.7L528.3,390.0"/><path d="M530.8,410.0L535.0,410.0"/><circle cx="530.8" cy="410.0" r="4.1"/><path d="M528.3,398.3L531.7,391.7"/><path class="d" d="M528.3,393.6l4.7,4.7l-4.7,4.7l-4.7,-4.7z"/><path d="M528.3,390.0L531.7,406.7"/><path d="M531.7,391.7L535.0,391.7"/><path class="d" d="M531.7,387.0l4.7,4.7l-4.7,4.7l-4.7,-4.7z"/><path d="M531.7,406.7L535.0,396.7"/><path d="M535.0,410.0L539.0,424.7"/><circle cx="535.0" cy="410.0" r="4.1"/><path d="M535.0,391.7L539.0,410.0"/><path class="d" d="M535.0,387.0l4.7,4.7l-4.7,4.7l-4.7,-4.7z"/><path d="M535.0,396.7L539.0,416.7"/><path d="M539.0,424.7L542.5,431.7"/><circle cx="539.0" cy="424.7" r="4.1"/><path d="M539.0,410.0L542.5,423.3"/><path class="d" d="M539.0,405.3l4.7,4.7l-4.7,4.7l-4.7,-4.7z"/><path d="M539.0,416.7L542.5,421.7"/><path d="M542.5,431.7L545.8,431.7"/><circle cx="542.5" cy="431.7" r="4.1"/><path d="M542.5,423.3L545.8,423.3"/><path class="d" d="M542.5,418.6l4.7,4.7l-4.7,4.7l-4.7,-4.7z"/><path d="M542.5,421.7L545.8,403.3"/><path d="M545.8,431.7L549.2,417.5"/><circle cx="545.8" cy="431.7" r="4.1"/><path d="M545.8,423.3L549.2,429.2"/><path class="d" d="M545.8,418.6l4.7,4.7l-4.7,4.7l-4.7,-4.7z"/><path d="M545.8,403.3L549.2,413.3"/><path d="M549.2,417.5L552.5,410.0"/><circle cx="549.2" cy="417.5" r="4.1"/><path d="M549.2,429.2L552.5,429.2"/><path class="d" d="M549.2,424.5l4.7,4.7l-4.7,4.7l-4.7,-4.7z"/><path d="M549.2,413.3L551.7,410.0"/><path d="M552.5,410.0L555.8,424.7"/><circle cx="552.5" cy="410.0" r="4.1"/><path d="M552.5,429.2L555.8,429.2"/><path class="d" d="M552.5,424.5l4.7,4.7l-4.7,4.7l-4.7,-4.7z"/><path d="M551.7,410.0L555.0,423.3"/><path d="M555.0,423.3L558.3,410.0"/><path d="M555.8,424.7L559.2,417.5"/><circle cx="555.8" cy="424.7" r="4.1"/><path d="M555.8,429.2L559.2,435.8"/><path class="d" d="M555.8,424.5l4.7,4.7l-4.7,4.7l-4.7,-4.7z"/><path d="M558.3,410.0L561.7,406.7"/><path d="M559.2,417.5L561.7,410.0"/><circle cx="559.2" cy="417.5" r="4.1"/><path d="M561.7,410.0L565.0,410.0"/><circle cx="561.7" cy="410.0" r="4.1"/><path d="M559.2,435.8L562.5,435.8"/><path class="d" d="M559.2,431.1l4.7,4.7l-4.7,4.7l-4.7,-4.7z"/><path d="M561.7,406.7L565.0,396.7"/><path d="M562.5,435.8L565.8,441.7"/><path class="d" d="M562.5,431.1l4.7,4.7l-4.7,4.7l-4.7,-4.7z"/><path d="M565.0,410.0L568.3,410.0"/><circle cx="565.0" cy="410.0" r="4.1"/><path d="M565.8,441.7L569.2,442.5"/><path class="d" d="M565.8,437.0l4.7,4.7l-4.7,4.7l-4.7,-4.7z"/><path d="M565.0,396.7L568.3,396.7"/><path d="M568.3,410.0L570.8,424.7"/><circle cx="568.3" cy="410.0" r="4.1"/><path d="M570.8,424.7L574.2,410.0"/><circle cx="570.8" cy="424.7" r="4.1"/><path d="M569.2,442.5L572.5,442.5"/><path class="d" d="M569.2,437.8l4.7,4.7l-4.7,4.7l-4.7,-4.7z"/><path d="M568.3,396.7L570.8,418.3"/><path d="M570.8,418.3L574.2,398.3"/><path d="M572.5,442.5L575.8,441.7"/><path class="d" d="M572.5,437.8l4.7,4.7l-4.7,4.7l-4.7,-4.7z"/><path d="M574.2,410.0L577.5,410.0"/><circle cx="574.2" cy="410.0" r="4.1"/><path d="M575.8,441.7L579.2,423.3"/><path class="d" d="M575.8,437.0l4.7,4.7l-4.7,4.7l-4.7,-4.7z"/><path d="M574.2,398.3L577.5,416.7"/><path d="M577.5,410.0L580.3,395.3"/><circle cx="577.5" cy="410.0" r="4.1"/><path d="M579.2,423.3L583.3,435.0"/><path class="d" d="M579.2,418.6l4.7,4.7l-4.7,4.7l-4.7,-4.7z"/><path d="M577.5,416.7L580.3,428.3"/><path d="M580.3,395.3L583.3,395.3"/><circle cx="580.3" cy="395.3" r="4.1"/><path d="M583.3,395.3L586.3,417.5"/><circle cx="583.3" cy="395.3" r="4.1"/><path d="M583.3,435.0L586.7,429.2"/><path class="d" d="M583.3,430.3l4.7,4.7l-4.7,4.7l-4.7,-4.7z"/><path d="M580.3,428.3L583.3,441.7"/><path d="M583.3,441.7L586.7,426.7"/><path d="M586.3,417.5L589.2,410.0"/><circle cx="586.3" cy="417.5" r="4.1"/><path d="M589.2,410.0L592.5,410.0"/><circle cx="589.2" cy="410.0" r="4.1"/><path d="M586.7,429.2L589.7,416.7"/><path class="d" d="M586.7,424.5l4.7,4.7l-4.7,4.7l-4.7,-4.7z"/><path d="M586.7,426.7L590.0,413.3"/><path d="M592.5,410.0L595.3,395.3"/><circle cx="592.5" cy="410.0" r="4.1"/><path d="M589.7,416.7L592.5,416.7"/><path class="d" d="M589.7,412.0l4.7,4.7l-4.7,4.7l-4.7,-4.7z"/><path d="M592.5,416.7L595.8,423.3"/><path class="d" d="M592.5,412.0l4.7,4.7l-4.7,4.7l-4.7,-4.7z"/><path d="M590.0,413.3L593.3,420.0"/><path d="M595.3,395.3L598.3,410.0"/><circle cx="595.3" cy="395.3" r="4.1"/><path d="M593.3,420.0L596.7,435.0"/><path d="M598.3,410.0L601.7,417.5"/><circle cx="598.3" cy="410.0" r="4.1"/><path d="M595.8,423.3L599.2,423.3"/><path class="d" d="M595.8,418.6l4.7,4.7l-4.7,4.7l-4.7,-4.7z"/><path d="M596.7,435.0L599.2,435.0"/><path d="M601.7,417.5L605.0,417.5"/><circle cx="601.7" cy="417.5" r="4.1"/><path d="M599.2,423.3L601.7,423.3"/><path class="d" d="M599.2,418.6l4.7,4.7l-4.7,4.7l-4.7,-4.7z"/><path d="M601.7,423.3L605.0,428.3"/><path class="d" d="M601.7,418.6l4.7,4.7l-4.7,4.7l-4.7,-4.7z"/><path d="M599.2,435.0L601.7,416.7"/><path d="M601.7,416.7L605.0,426.7"/><path d="M605.0,417.5L608.3,417.5"/><circle cx="605.0" cy="417.5" r="4.1"/><path d="M605.0,428.3L608.0,423.3"/><path class="d" d="M605.0,423.6l4.7,4.7l-4.7,4.7l-4.7,-4.7z"/><path d="M605.0,426.7L608.0,410.0"/><path d="M608.3,417.5L610.8,417.5"/><circle cx="608.3" cy="417.5" r="4.1"/><path d="M610.8,417.5L613.8,402.5"/><circle cx="610.8" cy="417.5" r="4.1"/><path d="M608.0,423.3L610.8,441.7"/><path class="d" d="M608.0,418.6l4.7,4.7l-4.7,4.7l-4.7,-4.7z"/><path d="M610.8,441.7L613.8,445.0"/><path class="d" d="M610.8,437.0l4.7,4.7l-4.7,4.7l-4.7,-4.7z"/><path d="M608.0,410.0L610.8,426.7"/><path d="M610.8,426.7L613.8,410.0"/><path d="M613.8,402.5L616.7,454.2"/><circle cx="613.8" cy="402.5" r="4.1"/><path d="M613.8,445.0L616.7,460.8"/><path class="d" d="M613.8,440.3l4.7,4.7l-4.7,4.7l-4.7,-4.7z"/><path d="M613.8,410.0L616.7,450.0"/><path d="M616.7,454.2L620.0,454.2"/><circle cx="616.7" cy="454.2" r="4.1"/><path d="M616.7,460.8L620.0,446.7"/><path class="d" d="M616.7,456.1l4.7,4.7l-4.7,4.7l-4.7,-4.7z"/><path d="M616.7,450.0L620.0,436.7"/><path d="M620.0,454.2L623.0,431.7"/><circle cx="620.0" cy="454.2" r="4.1"/><path d="M620.0,446.7L623.3,460.8"/><path class="d" d="M620.0,442.0l4.7,4.7l-4.7,4.7l-4.7,-4.7z"/><path d="M620.0,436.7L623.0,473.3"/><path d="M623.0,431.7L625.8,410.0"/><circle cx="623.0" cy="431.7" r="4.1"/><path d="M623.0,473.3L625.8,428.3"/><path d="M625.8,410.0L629.2,402.5"/><circle cx="625.8" cy="410.0" r="4.1"/><path d="M623.3,460.8L626.3,435.0"/><path class="d" d="M623.3,456.1l4.7,4.7l-4.7,4.7l-4.7,-4.7z"/><path d="M625.8,428.3L629.2,428.3"/><path d="M629.2,402.5L632.2,424.7"/><circle cx="629.2" cy="402.5" r="4.1"/><path d="M626.3,435.0L629.2,435.0"/><path class="d" d="M626.3,430.3l4.7,4.7l-4.7,4.7l-4.7,-4.7z"/><path d="M629.2,435.0L632.2,441.7"/><path class="d" d="M629.2,430.3l4.7,4.7l-4.7,4.7l-4.7,-4.7z"/><path d="M629.2,428.3L632.2,428.3"/><path d="M632.2,424.7L635.0,410.0"/><circle cx="632.2" cy="424.7" r="4.1"/><path d="M632.2,441.7L635.0,435.0"/><path class="d" d="M632.2,437.0l4.7,4.7l-4.7,4.7l-4.7,-4.7z"/><path d="M632.2,428.3L638.3,428.3"/><path d="M635.0,410.0L638.0,395.3"/><circle cx="635.0" cy="410.0" r="4.1"/><path d="M635.0,435.0L638.3,438.3"/><path class="d" d="M635.0,430.3l4.7,4.7l-4.7,4.7l-4.7,-4.7z"/><path d="M638.0,395.3L641.2,417.5"/><circle cx="638.0" cy="395.3" r="4.1"/><path d="M638.3,438.3L641.7,441.7"/><path class="d" d="M638.3,433.6l4.7,4.7l-4.7,4.7l-4.7,-4.7z"/><path d="M638.3,428.3L641.2,455.0"/><path d="M641.2,417.5L644.2,410.0"/><circle cx="641.2" cy="417.5" r="4.1"/><path d="M641.2,455.0L644.2,436.7"/><path d="M644.2,410.0L647.2,402.5"/><circle cx="644.2" cy="410.0" r="4.1"/><path d="M641.7,441.7L644.7,435.0"/><path class="d" d="M641.7,437.0l4.7,4.7l-4.7,4.7l-4.7,-4.7z"/><path d="M644.7,435.0L648.0,429.2"/><path class="d" d="M644.7,430.3l4.7,4.7l-4.7,4.7l-4.7,-4.7z"/><path d="M644.2,436.7L647.5,431.7"/><path d="M647.2,402.5L650.3,402.5"/><circle cx="647.2" cy="402.5" r="4.1"/><path d="M647.5,431.7L650.8,433.3"/><path d="M650.3,402.5L653.3,402.5"/><circle cx="650.3" cy="402.5" r="4.1"/><path d="M648.0,429.2L650.8,435.0"/><path class="d" d="M648.0,424.5l4.7,4.7l-4.7,4.7l-4.7,-4.7z"/><path d="M650.8,435.0L653.8,431.7"/><path class="d" d="M650.8,430.3l4.7,4.7l-4.7,4.7l-4.7,-4.7z"/><path d="M650.8,433.3L653.8,410.0"/><path d="M653.3,402.5L656.3,381.3"/><circle cx="653.3" cy="402.5" r="4.1"/><path d="M653.8,431.7L656.7,429.2"/><path class="d" d="M653.8,427.0l4.7,4.7l-4.7,4.7l-4.7,-4.7z"/><path d="M653.8,410.0L656.7,410.0"/><path d="M656.3,381.3L659.5,395.3"/><circle cx="656.3" cy="381.3" r="4.1"/><path d="M656.7,429.2L659.7,448.3"/><path class="d" d="M656.7,424.5l4.7,4.7l-4.7,4.7l-4.7,-4.7z"/><path d="M656.7,410.0L660.0,408.3"/><path d="M659.5,395.3L662.5,410.0"/><circle cx="659.5" cy="395.3" r="4.1"/><path d="M659.7,448.3L662.5,455.0"/><path class="d" d="M659.7,443.6l4.7,4.7l-4.7,4.7l-4.7,-4.7z"/><path d="M660.0,408.3L662.5,391.7"/><path d="M662.5,410.0L665.8,395.3"/><circle cx="662.5" cy="410.0" r="4.1"/><path d="M662.5,455.0L665.8,441.7"/><path class="d" d="M662.5,450.3l4.7,4.7l-4.7,4.7l-4.7,-4.7z"/><path d="M662.5,391.7L665.8,403.3"/><path d="M665.8,395.3L668.8,388.3"/><circle cx="665.8" cy="395.3" r="4.1"/><path d="M665.8,441.7L668.8,460.8"/><path class="d" d="M665.8,437.0l4.7,4.7l-4.7,4.7l-4.7,-4.7z"/><path d="M665.8,403.3L668.8,396.7"/><path d="M668.8,388.3L672.0,388.3"/><circle cx="668.8" cy="388.3" r="4.1"/><path d="M668.8,460.8L672.0,455.0"/><path class="d" d="M668.8,456.1l4.7,4.7l-4.7,4.7l-4.7,-4.7z"/><path d="M668.8,396.7L672.0,391.7"/><path d="M672.0,388.3L675.0,402.5"/><circle cx="672.0" cy="388.3" r="4.1"/><path d="M672.0,455.0L675.0,453.3"/><path class="d" d="M672.0,450.3l4.7,4.7l-4.7,4.7l-4.7,-4.7z"/><path d="M672.0,391.7L675.0,410.0"/><path d="M675.0,402.5L679.0,402.5"/><circle cx="675.0" cy="402.5" r="4.1"/><path d="M675.0,453.3L679.0,448.3"/><path class="d" d="M675.0,448.6l4.7,4.7l-4.7,4.7l-4.7,-4.7z"/><path d="M675.0,410.0L679.0,405.0"/><path d="M679.0,402.5L681.2,402.5"/><circle cx="679.0" cy="402.5" r="4.1"/><path d="M681.2,402.5L684.2,366.7"/><circle cx="681.2" cy="402.5" r="4.1"/><path d="M679.0,448.3L681.2,460.8"/><path class="d" d="M679.0,443.6l4.7,4.7l-4.7,4.7l-4.7,-4.7z"/><path d="M681.2,460.8L684.2,455.0"/><path class="d" d="M681.2,456.1l4.7,4.7l-4.7,4.7l-4.7,-4.7z"/><path d="M679.0,405.0L683.3,410.0"/><path d="M684.2,366.7L687.2,381.3"/><circle cx="684.2" cy="366.7" r="4.1"/><path d="M684.2,455.0L687.5,455.0"/><path class="d" d="M684.2,450.3l4.7,4.7l-4.7,4.7l-4.7,-4.7z"/><path d="M683.3,410.0L685.0,371.7"/><path d="M687.2,381.3L690.3,374.2"/><circle cx="687.2" cy="381.3" r="4.1"/><path d="M687.5,455.0L690.3,447.5"/><path class="d" d="M687.5,450.3l4.7,4.7l-4.7,4.7l-4.7,-4.7z"/><path d="M685.0,371.7L687.5,390.0"/><path d="M687.5,390.0L690.0,378.3"/><path d="M690.3,374.2L693.3,366.7"/><circle cx="690.3" cy="374.2" r="4.1"/><path d="M690.3,447.5L693.3,448.3"/><path class="d" d="M690.3,442.8l4.7,4.7l-4.7,4.7l-4.7,-4.7z"/><path d="M690.0,378.3L693.3,390.0"/><path d="M693.3,366.7L696.3,374.2"/><circle cx="693.3" cy="366.7" r="4.1"/><path d="M693.3,448.3L696.7,448.3"/><path class="d" d="M693.3,443.6l4.7,4.7l-4.7,4.7l-4.7,-4.7z"/><path d="M693.3,390.0L696.7,397.5"/><path d="M696.3,374.2L699.5,366.7"/><circle cx="696.3" cy="374.2" r="4.1"/><path d="M696.7,448.3L699.5,429.2"/><path class="d" d="M696.7,443.6l4.7,4.7l-4.7,4.7l-4.7,-4.7z"/><path d="M696.7,397.5L700.0,397.5"/><path d="M699.5,366.7L702.5,388.3"/><circle cx="699.5" cy="366.7" r="4.1"/><path d="M699.5,429.2L702.5,423.3"/><path class="d" d="M699.5,424.5l4.7,4.7l-4.7,4.7l-4.7,-4.7z"/><path d="M702.5,388.3L705.8,374.2"/><circle cx="702.5" cy="388.3" r="4.1"/><path d="M702.5,423.3L705.8,423.3"/><path class="d" d="M702.5,418.6l4.7,4.7l-4.7,4.7l-4.7,-4.7z"/><path d="M700.0,397.5L702.5,385.0"/><path d="M702.5,385.0L705.0,390.8"/><path d="M705.8,374.2L709.2,374.2"/><circle cx="705.8" cy="374.2" r="4.1"/><path d="M705.8,423.3L709.2,429.2"/><path class="d" d="M705.8,418.6l4.7,4.7l-4.7,4.7l-4.7,-4.7z"/><path d="M705.0,390.8L708.3,373.3"/><path d="M709.2,374.2L712.0,381.3"/><circle cx="709.2" cy="374.2" r="4.1"/><path d="M709.2,429.2L712.0,410.0"/><path class="d" d="M709.2,424.5l4.7,4.7l-4.7,4.7l-4.7,-4.7z"/><path d="M708.3,373.3L711.7,385.0"/><path d="M712.0,381.3L715.0,374.2"/><circle cx="712.0" cy="381.3" r="4.1"/><path d="M712.0,410.0L715.0,390.0"/><path class="d" d="M712.0,405.3l4.7,4.7l-4.7,4.7l-4.7,-4.7z"/><path d="M711.7,385.0L715.0,365.0"/><path d="M715.0,374.2L718.3,395.3"/><circle cx="715.0" cy="374.2" r="4.1"/><path d="M715.0,390.0L718.0,385.0"/><path class="d" d="M715.0,385.3l4.7,4.7l-4.7,4.7l-4.7,-4.7z"/><path d="M715.0,365.0L718.0,383.3"/><path d="M718.3,395.3L721.7,374.2"/><circle cx="718.3" cy="395.3" r="4.1"/><path d="M718.0,385.0L720.8,365.8"/><path class="d" d="M718.0,380.3l4.7,4.7l-4.7,4.7l-4.7,-4.7z"/><path d="M718.0,383.3L720.8,365.0"/><path d="M720.8,365.8L724.2,391.7"/><path class="d" d="M720.8,361.1l4.7,4.7l-4.7,4.7l-4.7,-4.7z"/><path d="M720.8,365.0L724.2,352.5"/><path d="M721.7,374.2L724.7,381.3"/><circle cx="721.7" cy="374.2" r="4.1"/><path d="M724.2,391.7L727.5,391.7"/><path class="d" d="M724.2,387.0l4.7,4.7l-4.7,4.7l-4.7,-4.7z"/><path d="M724.2,352.5L727.5,355.0"/><path d="M724.7,381.3L727.8,359.2"/><circle cx="724.7" cy="381.3" r="4.1"/><path d="M727.5,391.7L730.8,391.7"/><path class="d" d="M727.5,387.0l4.7,4.7l-4.7,4.7l-4.7,-4.7z"/><path d="M727.5,355.0L730.0,370.0"/><path d="M727.8,359.2L730.8,359.2"/><circle cx="727.8" cy="359.2" r="4.1"/><path d="M730.0,370.0L733.3,346.7"/><path d="M730.8,359.2L733.8,359.2"/><circle cx="730.8" cy="359.2" r="4.1"/><path d="M730.8,391.7L733.3,385.0"/><path class="d" d="M730.8,387.0l4.7,4.7l-4.7,4.7l-4.7,-4.7z"/><path d="M733.3,385.0L735.8,378.3"/><path class="d" d="M733.3,380.3l4.7,4.7l-4.7,4.7l-4.7,-4.7z"/><path d="M733.3,346.7L735.8,360.0"/><path d="M733.8,359.2L737.0,352.0"/><circle cx="733.8" cy="359.2" r="4.1"/><path d="M735.8,378.3L739.2,371.7"/><path class="d" d="M735.8,373.6l4.7,4.7l-4.7,4.7l-4.7,-4.7z"/><path d="M735.8,360.0L739.2,348.3"/><path d="M737.0,352.0L739.2,344.7"/><circle cx="737.0" cy="352.0" r="4.1"/><path d="M739.2,344.7L742.5,337.5"/><circle cx="739.2" cy="344.7" r="4.1"/><path d="M739.2,371.7L742.5,378.3"/><path class="d" d="M739.2,367.0l4.7,4.7l-4.7,4.7l-4.7,-4.7z"/><path d="M739.2,348.3L742.5,346.7"/><path d="M742.5,337.5L745.8,337.5"/><circle cx="742.5" cy="337.5" r="4.1"/><path d="M742.5,378.3L745.8,371.7"/><path class="d" d="M742.5,373.6l4.7,4.7l-4.7,4.7l-4.7,-4.7z"/><path d="M742.5,346.7L745.0,365.0"/><path d="M745.8,337.5L748.3,315.8"/><circle cx="745.8" cy="337.5" r="4.1"/><path d="M745.8,371.7L748.3,365.8"/><path class="d" d="M745.8,367.0l4.7,4.7l-4.7,4.7l-4.7,-4.7z"/><path d="M745.0,365.0L748.3,360.0"/><path d="M748.3,315.8L751.7,330.0"/><circle cx="748.3" cy="315.8" r="4.1"/><path d="M748.3,365.8L751.3,352.5"/><path class="d" d="M748.3,361.1l4.7,4.7l-4.7,4.7l-4.7,-4.7z"/><path d="M748.3,360.0L751.7,368.3"/><path d="M751.7,330.0L754.5,308.3"/><circle cx="751.7" cy="330.0" r="4.1"/><path d="M751.3,352.5L754.5,359.2"/><path class="d" d="M751.3,347.8l4.7,4.7l-4.7,4.7l-4.7,-4.7z"/><path d="M751.7,368.3L755.0,356.7"/><path d="M754.5,308.3L758.0,293.7"/><circle cx="754.5" cy="308.3" r="4.1"/><path d="M754.5,359.2L757.5,378.3"/><path class="d" d="M754.5,354.5l4.7,4.7l-4.7,4.7l-4.7,-4.7z"/><path d="M755.0,356.7L758.3,360.0"/><path d="M758.0,293.7L761.3,359.2"/><circle cx="758.0" cy="293.7" r="4.1"/><path d="M757.5,378.3L760.8,371.7"/><path class="d" d="M757.5,373.6l4.7,4.7l-4.7,4.7l-4.7,-4.7z"/><path d="M761.3,359.2L765.8,315.8"/><circle cx="761.3" cy="359.2" r="4.1"/><path d="M760.8,371.7L764.2,378.3"/><path class="d" d="M760.8,367.0l4.7,4.7l-4.7,4.7l-4.7,-4.7z"/><path d="M758.3,360.0L761.7,368.3"/><path d="M764.2,378.3L766.7,352.5"/><path class="d" d="M764.2,373.6l4.7,4.7l-4.7,4.7l-4.7,-4.7z"/><path d="M761.7,368.3L765.0,378.3"/><path d="M765.8,315.8L770.0,315.8"/><circle cx="765.8" cy="315.8" r="4.1"/><path d="M766.7,352.5L770.0,352.5"/><path class="d" d="M766.7,347.8l4.7,4.7l-4.7,4.7l-4.7,-4.7z"/><path d="M765.0,378.3L768.3,385.0"/><path d="M770.0,315.8L773.3,301.3"/><circle cx="770.0" cy="315.8" r="4.1"/><path d="M770.0,352.5L773.0,346.7"/><path class="d" d="M770.0,347.8l4.7,4.7l-4.7,4.7l-4.7,-4.7z"/><path d="M768.3,385.0L771.7,386.7"/><path d="M773.3,301.3L776.2,301.3"/><circle cx="773.3" cy="301.3" r="4.1"/><path d="M773.0,346.7L776.2,378.3"/><path class="d" d="M773.0,342.0l4.7,4.7l-4.7,4.7l-4.7,-4.7z"/><path d="M771.7,386.7L775.8,397.5"/><path d="M776.2,301.3L779.2,322.8"/><circle cx="776.2" cy="301.3" r="4.1"/><path d="M776.2,378.3L779.2,391.7"/><path class="d" d="M776.2,373.6l4.7,4.7l-4.7,4.7l-4.7,-4.7z"/><path d="M775.8,397.5L779.2,365.8"/><path d="M779.2,322.8L782.2,301.3"/><circle cx="779.2" cy="322.8" r="4.1"/><path d="M779.2,391.7L782.2,378.3"/><path class="d" d="M779.2,387.0l4.7,4.7l-4.7,4.7l-4.7,-4.7z"/><path d="M779.2,365.8L781.7,385.0"/><path d="M782.2,301.3L785.0,322.8"/><circle cx="782.2" cy="301.3" r="4.1"/><path d="M782.2,378.3L785.0,385.0"/><path class="d" d="M782.2,373.6l4.7,4.7l-4.7,4.7l-4.7,-4.7z"/><path d="M781.7,385.0L785.0,359.2"/><path d="M785.0,322.8L788.3,322.8"/><circle cx="785.0" cy="322.8" r="4.1"/><path d="M785.0,385.0L788.3,378.3"/><path class="d" d="M785.0,380.3l4.7,4.7l-4.7,4.7l-4.7,-4.7z"/><path d="M785.0,359.2L788.3,353.3"/><path d="M788.3,322.8L791.3,286.7"/><circle cx="788.3" cy="322.8" r="4.1"/><path d="M788.3,378.3L791.3,378.3"/><path class="d" d="M788.3,373.6l4.7,4.7l-4.7,4.7l-4.7,-4.7z"/><path d="M788.3,353.3L791.7,356.7"/><path d="M791.3,286.7L794.5,301.3"/><circle cx="791.3" cy="286.7" r="4.1"/><path d="M791.3,378.3L794.2,390.8"/><path class="d" d="M791.3,373.6l4.7,4.7l-4.7,4.7l-4.7,-4.7z"/><path d="M791.7,356.7L794.5,353.3"/><path d="M794.5,301.3L797.5,286.7"/><circle cx="794.5" cy="301.3" r="4.1"/><path d="M794.2,390.8L797.5,378.3"/><path class="d" d="M794.2,386.1l4.7,4.7l-4.7,4.7l-4.7,-4.7z"/><path d="M794.5,353.3L797.5,365.8"/><path d="M797.5,286.7L800.4,278.9"/><circle cx="797.5" cy="286.7" r="4.1"/><path d="M797.5,378.3L800.5,385.0"/><path class="d" d="M797.5,373.6l4.7,4.7l-4.7,4.7l-4.7,-4.7z"/><path d="M797.5,365.8L800.5,333.3"/><path d="M800.4,278.9L803.6,271.3"/><circle cx="800.4" cy="278.9" r="4.1"/><path d="M800.5,385.0L803.3,397.5"/><path class="d" d="M800.5,380.3l4.7,4.7l-4.7,4.7l-4.7,-4.7z"/><path d="M800.5,333.3L803.3,352.5"/><path d="M803.6,271.3L806.7,257.2"/><circle cx="803.6" cy="271.3" r="4.1"/><path d="M803.3,397.5L806.7,396.7"/><path class="d" d="M803.3,392.8l4.7,4.7l-4.7,4.7l-4.7,-4.7z"/><path d="M803.3,352.5L806.7,352.5"/><path d="M806.7,257.2L809.6,278.9"/><circle cx="806.7" cy="257.2" r="4.1"/><path d="M806.7,396.7L809.7,404.2"/><path class="d" d="M806.7,392.0l4.7,4.7l-4.7,4.7l-4.7,-4.7z"/><path d="M806.7,352.5L809.7,371.7"/><path d="M809.6,278.9L812.8,271.9"/><circle cx="809.6" cy="278.9" r="4.1"/><path d="M809.7,404.2L813.0,385.0"/><path class="d" d="M809.7,399.5l4.7,4.7l-4.7,4.7l-4.7,-4.7z"/><path d="M809.7,371.7L813.0,359.2"/><path d="M812.8,271.9L815.9,264.4"/><circle cx="812.8" cy="271.9" r="4.1"/><path d="M813.0,385.0L815.8,390.8"/><path class="d" d="M813.0,380.3l4.7,4.7l-4.7,4.7l-4.7,-4.7z"/><path d="M813.0,359.2L815.8,346.7"/><path d="M815.9,264.4L818.1,235.7"/><circle cx="815.9" cy="264.4" r="4.1"/><path d="M815.8,390.8L819.0,378.3"/><path class="d" d="M815.8,386.1l4.7,4.7l-4.7,4.7l-4.7,-4.7z"/><path d="M815.8,346.7L819.0,359.2"/><path d="M818.1,235.7L821.2,235.7"/><circle cx="818.1" cy="235.7" r="4.1"/><path d="M819.0,378.3L821.9,416.3"/><path class="d" d="M819.0,373.6l4.7,4.7l-4.7,4.7l-4.7,-4.7z"/><path d="M819.0,359.2L822.5,359.6"/><path d="M821.2,235.7L825.0,235.7"/><circle cx="821.2" cy="235.7" r="4.1"/><path d="M821.9,416.3L825.0,410.0"/><path class="d" d="M821.9,411.6l4.7,4.7l-4.7,4.7l-4.7,-4.7z"/><path d="M822.5,359.6L824.4,383.5"/><path d="M825.0,235.7L828.2,213.5"/><circle cx="825.0" cy="235.7" r="4.1"/><path d="M825.0,410.0L828.2,389.2"/><path class="d" d="M825.0,405.3l4.7,4.7l-4.7,4.7l-4.7,-4.7z"/><path d="M824.4,383.5L826.3,396.2"/><path d="M828.2,213.5L831.3,220.8"/><circle cx="828.2" cy="213.5" r="4.1"/><path d="M828.2,389.2L831.3,379.8"/><path class="d" d="M828.2,384.5l4.7,4.7l-4.7,4.7l-4.7,-4.7z"/><path d="M826.3,396.2L828.2,370.9"/><path d="M828.2,370.9L830.7,383.5"/><path d="M831.3,220.8L834.2,206.3"/><circle cx="831.3" cy="220.8" r="4.1"/><path d="M831.3,379.8L834.2,358.3"/><path class="d" d="M831.3,375.1l4.7,4.7l-4.7,4.7l-4.7,-4.7z"/><path d="M830.7,383.5L832.6,374.7"/><path d="M834.2,206.3L837.3,170.1"/><circle cx="834.2" cy="206.3" r="4.1"/><path d="M834.2,358.3L837.3,403.7"/><path class="d" d="M834.2,353.6l4.7,4.7l-4.7,4.7l-4.7,-4.7z"/><path d="M832.6,374.7L835.1,379.8"/><path d="M837.3,170.1L840.5,177.3"/><circle cx="837.3" cy="170.1" r="4.1"/><path d="M837.3,403.7L840.5,377.9"/><path class="d" d="M837.3,399.0l4.7,4.7l-4.7,4.7l-4.7,-4.7z"/><path d="M835.1,379.8L837.6,396.2"/><path d="M837.6,396.2L840.5,410.0"/><path d="M840.5,177.3L843.3,191.8"/><circle cx="840.5" cy="177.3" r="4.1"/><path d="M840.5,377.9L843.3,382.3"/><path class="d" d="M840.5,373.2l4.7,4.7l-4.7,4.7l-4.7,-4.7z"/><path d="M840.5,410.0L843.3,397.4"/><path d="M843.3,191.8L846.5,170.1"/><circle cx="843.3" cy="191.8" r="4.1"/><path d="M843.3,382.3L846.5,389.8"/><path class="d" d="M843.3,377.6l4.7,4.7l-4.7,4.7l-4.7,-4.7z"/><path d="M843.3,397.4L846.5,403.7"/><path d="M846.5,170.1L849.6,184.5"/><circle cx="846.5" cy="170.1" r="4.1"/><path d="M846.5,389.8L849.6,370.9"/><path class="d" d="M846.5,385.1l4.7,4.7l-4.7,4.7l-4.7,-4.7z"/><path d="M846.5,403.7L849.6,402.5"/><path d="M849.6,184.5L852.8,162.8"/><circle cx="849.6" cy="184.5" r="4.1"/><path d="M849.6,370.9L852.8,397.4"/><path class="d" d="M849.6,366.2l4.7,4.7l-4.7,4.7l-4.7,-4.7z"/><path d="M849.6,402.5L852.8,394.9"/><path d="M852.8,162.8L855.7,199.0"/><circle cx="852.8" cy="162.8" r="4.1"/><path d="M852.8,397.4L855.9,403.1"/><path class="d" d="M852.8,392.7l4.7,4.7l-4.7,4.7l-4.7,-4.7z"/><path d="M852.8,394.9L855.9,401.2"/><circle cx="855.7" cy="199.0" r="4.1"/><path class="d" d="M855.9,398.4l4.7,4.7l-4.7,4.7l-4.7,-4.7z"/>
</g>
<line x1="136.7" y1="23.3" x2="136.7" y2="512.3" class="ka"/>
<line x1="197.8" y1="23.3" x2="197.8" y2="512.3" class="ka"/>
<line x1="262" y1="23.3" x2="262" y2="512.3" class="ka"/>
<line x1="320" y1="23.3" x2="320" y2="512.3" class="ka"/>
<line x1="385" y1="23.3" x2="385" y2="512.3" class="ka"/>
<line x1="444.6" y1="23.3" x2="444.6" y2="512.3" class="ka"/>
<line x1="629.7" y1="23.3" x2="629.7" y2="512.3" class="ka"/>
<line x1="764" y1="23.3" x2="764" y2="512.3" class="ka"/>
<rect x="292" y="17.7" width="564" height="41.3" fill="#fff" stroke="#808080" stroke-width="1.6"/>
<line x1="320" y1="38.0" x2="345" y2="38.0" class="lna" style="stroke-width:2.7"/>
<g class="cia"><circle cx="332.5" cy="38.0" r="3.7"/></g>
<text x="345" y="44.5" class="lt" textLength="140" lengthAdjust="spacingAndGlyphs">SR-child (N=21)</text>
<line x1="502.5" y1="38.0" x2="529" y2="38.0" class="lna" style="stroke-width:2.7"/>
<g class="di"><path d="M515.8,33.7l4.3,4.3l-4.3,4.3l-4.3,-4.3z"/></g>
<text x="529" y="44.5" class="lt" textLength="139" lengthAdjust="spacingAndGlyphs">LG-child (N=24)</text>
<line x1="687.5" y1="38.0" x2="711.5" y2="38.0" class="lna" style="stroke-width:2.7"/>
<text x="713.3" y="44.5" class="lt" textLength="119.7" lengthAdjust="spacingAndGlyphs">Adults (N=24)</text>
</g>
<g id="chart-b">
<line x1="114.3" y1="1169.70" x2="859.7" y2="1169.70" class="gb"/>
<line x1="114.3" y1="1108.30" x2="859.7" y2="1108.30" class="gb"/>
<line x1="114.3" y1="1046.80" x2="859.7" y2="1046.80" class="gb"/>
<line x1="114.3" y1="985.50" x2="859.7" y2="985.50" class="gb"/>
<line x1="114.3" y1="924.40" x2="859.7" y2="924.40" class="gb"/>
<line x1="114.3" y1="862.90" x2="859.7" y2="862.90" class="gb"/>
<line x1="114.3" y1="801.50" x2="859.7" y2="801.50" class="gb"/>
<line x1="114.3" y1="740.50" x2="859.7" y2="740.50" class="gb"/>
<line x1="114.3" y1="678.00" x2="859.7" y2="678.00" class="gb"/>
<line x1="121.8" y1="678" x2="121.8" y2="1169.9" class="gb" style="stroke-width:2.0"/>
<line x1="114.5" y1="1169.9" x2="859.7" y2="1169.9" class="gb" style="stroke-width:2.0"/>
<line x1="504.7" y1="678" x2="504.7" y2="1169.9" class="gv"/>
<text x="105.5" y="1175.80" class="t23" text-anchor="end" textLength="12.4" lengthAdjust="spacingAndGlyphs">0</text>
<text x="105.5" y="1115.10" class="t23" text-anchor="end" textLength="31.0" lengthAdjust="spacingAndGlyphs">0.1</text>
<text x="105.5" y="1053.60" class="t23" text-anchor="end" textLength="31.0" lengthAdjust="spacingAndGlyphs">0.2</text>
<text x="105.5" y="992.30" class="t23" text-anchor="end" textLength="31.0" lengthAdjust="spacingAndGlyphs">0.3</text>
<text x="105.5" y="931.20" class="t23" text-anchor="end" textLength="31.0" lengthAdjust="spacingAndGlyphs">0.4</text>
<text x="105.5" y="869.70" class="t23" text-anchor="end" textLength="31.0" lengthAdjust="spacingAndGlyphs">0.5</text>
<text x="105.5" y="808.30" class="t23" text-anchor="end" textLength="31.0" lengthAdjust="spacingAndGlyphs">0.6</text>
<text x="105.5" y="747.30" class="t23" text-anchor="end" textLength="31.0" lengthAdjust="spacingAndGlyphs">0.7</text>
<text x="105.5" y="684.80" class="t23" text-anchor="end" textLength="31.0" lengthAdjust="spacingAndGlyphs">0.8</text>
<text transform="translate(143.8,1184.2) rotate(-90)" class="t" text-anchor="end" textLength="56.6" lengthAdjust="spacingAndGlyphs">-2400</text>
<text transform="translate(206.4,1184.2) rotate(-90)" class="t" text-anchor="end" textLength="56.6" lengthAdjust="spacingAndGlyphs">-2000</text>
<text transform="translate(270.3,1184.2) rotate(-90)" class="t" text-anchor="end" textLength="56.6" lengthAdjust="spacingAndGlyphs">-1600</text>
<text transform="translate(328.9,1184.2) rotate(-90)" class="t" text-anchor="end" textLength="56.6" lengthAdjust="spacingAndGlyphs">-1200</text>
<text transform="translate(390.1,1184.2) rotate(-90)" class="t" text-anchor="end" textLength="44.3" lengthAdjust="spacingAndGlyphs">-800</text>
<text transform="translate(451.4,1184.2) rotate(-90)" class="t" text-anchor="end" textLength="44.3" lengthAdjust="spacingAndGlyphs">-400</text>
<text transform="translate(512.3,1184.2) rotate(-90)" class="t" text-anchor="end" textLength="12.3" lengthAdjust="spacingAndGlyphs">0</text>
<text transform="translate(634.8,1184.2) rotate(-90)" class="t" text-anchor="end" textLength="94.2" lengthAdjust="spacingAndGlyphs">VP Onset</text>
<text transform="translate(772.5,1184.2) rotate(-90)" class="t" text-anchor="end" textLength="102.0" lengthAdjust="spacingAndGlyphs">-ing Onset</text>
<text transform="translate(19.3,1120.2) rotate(-90)" class="by">Mean proportion of eye fixations to</text>
<text transform="translate(47.1,1024.1) rotate(-90)" class="by">the extra object(s)</text>
<text x="172.6" y="1281" class="b" textLength="331.3" lengthAdjust="spacingAndGlyphs">Time from sentence onset (ms)</text>
<text x="-0.8" y="678.5" class="t">b</text>
<g class="sb">
<path d="M121.7,979.2L125.0,991.7"/><circle cx="121.7" cy="979.2" r="4.05"/><path d="M120.0,1008.3L123.3,1008.3"/><path class="d" d="M120.0,1003.6l4.7,4.7l-4.7,4.7l-4.7,-4.7z"/><path d="M121.7,1060.8L124.2,1050.0"/><path d="M125.0,991.7L128.0,1040.0"/><circle cx="125.0" cy="991.7" r="4.05"/><path d="M123.3,1008.3L126.7,1053.3"/><path class="d" d="M123.3,1003.6l4.7,4.7l-4.7,4.7l-4.7,-4.7z"/><path d="M124.2,1050.0L125.8,1050.8"/><path d="M125.8,1050.8L128.3,1055.0"/><path d="M128.0,1040.0L130.8,1040.0"/><circle cx="128.0" cy="1040.0" r="4.05"/><path d="M126.7,1053.3L130.0,1055.0"/><path class="d" d="M126.7,1048.6l4.7,4.7l-4.7,4.7l-4.7,-4.7z"/><path d="M128.3,1055.0L130.8,1026.7"/><path d="M130.8,1040.0L133.3,997.5"/><circle cx="130.8" cy="1040.0" r="4.05"/><path d="M130.0,1055.0L133.3,1033.3"/><path class="d" d="M130.0,1050.3l4.7,4.7l-4.7,4.7l-4.7,-4.7z"/><path d="M130.8,1026.7L133.3,1015.0"/><path d="M133.3,997.5L136.7,1046.7"/><circle cx="133.3" cy="997.5" r="4.05"/><path d="M133.3,1033.3L136.7,1045.0"/><path class="d" d="M133.3,1028.6l4.7,4.7l-4.7,4.7l-4.7,-4.7z"/><path d="M133.3,1015.0L136.7,990.0"/><path d="M136.7,1046.7L140.0,1052.5"/><circle cx="136.7" cy="1046.7" r="4.05"/><path d="M136.7,1045.0L140.0,1045.0"/><path class="d" d="M136.7,1040.3l4.7,4.7l-4.7,4.7l-4.7,-4.7z"/><path d="M136.7,990.0L140.0,1038.3"/><path d="M140.0,1052.5L143.0,1052.5"/><circle cx="140.0" cy="1052.5" r="4.05"/><path d="M140.0,1045.0L143.0,1051.7"/><path class="d" d="M140.0,1040.3l4.7,4.7l-4.7,4.7l-4.7,-4.7z"/><path d="M140.0,1038.3L143.3,1050.0"/><path d="M143.0,1052.5L145.8,1065.0"/><circle cx="143.0" cy="1052.5" r="4.05"/><path d="M143.0,1051.7L145.8,1060.0"/><path class="d" d="M143.0,1047.0l4.7,4.7l-4.7,4.7l-4.7,-4.7z"/><path d="M143.3,1050.0L145.8,1031.7"/><path d="M145.8,1065.0L149.2,1015.8"/><circle cx="145.8" cy="1065.0" r="4.05"/><path d="M145.8,1060.0L149.2,1026.7"/><path class="d" d="M145.8,1055.3l4.7,4.7l-4.7,4.7l-4.7,-4.7z"/><path d="M145.8,1031.7L149.2,1021.7"/><path d="M149.2,1015.8L152.5,1052.5"/><circle cx="149.2" cy="1015.8" r="4.05"/><path d="M149.2,1026.7L152.5,1060.0"/><path class="d" d="M149.2,1022.0l4.7,4.7l-4.7,4.7l-4.7,-4.7z"/><path d="M149.2,1021.7L152.5,1023.3"/><path d="M152.5,1052.5L155.5,1046.7"/><circle cx="152.5" cy="1052.5" r="4.05"/><path d="M152.5,1060.0L155.5,1060.0"/><path class="d" d="M152.5,1055.3l4.7,4.7l-4.7,4.7l-4.7,-4.7z"/><path d="M152.5,1023.3L155.5,1028.3"/><path d="M155.5,1046.7L158.7,1070.8"/><circle cx="155.5" cy="1046.7" r="4.05"/><path d="M155.5,1060.0L158.7,1033.3"/><path class="d" d="M155.5,1055.3l4.7,4.7l-4.7,4.7l-4.7,-4.7z"/><path d="M155.5,1028.3L158.7,1046.7"/><path d="M158.7,1070.8L161.7,1077.5"/><circle cx="158.7" cy="1070.8" r="4.05"/><path d="M158.7,1033.3L161.7,1028.3"/><path class="d" d="M158.7,1028.6l4.7,4.7l-4.7,4.7l-4.7,-4.7z"/><path d="M158.7,1046.7L161.7,1028.3"/><path d="M161.7,1077.5L164.7,1052.5"/><circle cx="161.7" cy="1077.5" r="4.05"/><path d="M161.7,1028.3L164.7,1038.3"/><path class="d" d="M161.7,1023.6l4.7,4.7l-4.7,4.7l-4.7,-4.7z"/><path d="M161.7,1028.3L164.7,1028.3"/><path d="M164.7,1052.5L167.8,1065.0"/><circle cx="164.7" cy="1052.5" r="4.05"/><path d="M164.7,1038.3L167.8,1060.0"/><path class="d" d="M164.7,1033.6l4.7,4.7l-4.7,4.7l-4.7,-4.7z"/><path d="M164.7,1028.3L167.8,1045.0"/><path d="M167.8,1065.0L170.8,1065.0"/><circle cx="167.8" cy="1065.0" r="4.05"/><path d="M167.8,1060.0L170.8,1050.0"/><path class="d" d="M167.8,1055.3l4.7,4.7l-4.7,4.7l-4.7,-4.7z"/><path d="M167.8,1045.0L170.8,1065.0"/><path d="M170.8,1065.0L173.8,1059.2"/><circle cx="170.8" cy="1065.0" r="4.05"/><path d="M170.8,1050.0L173.8,1030.0"/><path class="d" d="M170.8,1045.3l4.7,4.7l-4.7,4.7l-4.7,-4.7z"/><path d="M170.8,1065.0L173.8,1021.7"/><path d="M173.8,1059.2L177.0,1052.5"/><circle cx="173.8" cy="1059.2" r="4.05"/><path d="M173.8,1030.0L177.0,1015.8"/><path class="d" d="M173.8,1025.3l4.7,4.7l-4.7,4.7l-4.7,-4.7z"/><path d="M173.8,1021.7L177.0,1031.7"/><path d="M177.0,1052.5L180.0,1065.0"/><circle cx="177.0" cy="1052.5" r="4.05"/><path d="M177.0,1015.8L180.0,1021.7"/><path class="d" d="M177.0,1011.1l4.7,4.7l-4.7,4.7l-4.7,-4.7z"/><path d="M177.0,1031.7L180.0,1035.0"/><path d="M180.0,1065.0L183.3,1070.8"/><circle cx="180.0" cy="1065.0" r="4.05"/><path d="M180.0,1021.7L183.3,1015.8"/><path class="d" d="M180.0,1017.0l4.7,4.7l-4.7,4.7l-4.7,-4.7z"/><path d="M180.0,1035.0L183.3,1025.0"/><path d="M183.3,1070.8L186.3,1077.5"/><circle cx="183.3" cy="1070.8" r="4.05"/><path d="M183.3,1015.8L186.3,1015.8"/><path class="d" d="M183.3,1011.1l4.7,4.7l-4.7,4.7l-4.7,-4.7z"/><path d="M183.3,1025.0L186.7,1016.7"/><path d="M186.3,1077.5L189.5,1095.8"/><circle cx="186.3" cy="1077.5" r="4.05"/><path d="M186.3,1015.8L189.5,1022.5"/><path class="d" d="M186.3,1011.1l4.7,4.7l-4.7,4.7l-4.7,-4.7z"/><path d="M186.7,1016.7L189.2,1006.7"/><path d="M189.5,1095.8L192.5,1083.3"/><circle cx="189.5" cy="1095.8" r="4.05"/><path d="M189.5,1022.5L192.5,1031.7"/><path class="d" d="M189.5,1017.8l4.7,4.7l-4.7,4.7l-4.7,-4.7z"/><path d="M189.2,1006.7L191.7,978.3"/><path d="M192.5,1083.3L195.5,1077.5"/><circle cx="192.5" cy="1083.3" r="4.05"/><path d="M192.5,1031.7L195.5,1038.3"/><path class="d" d="M192.5,1027.0l4.7,4.7l-4.7,4.7l-4.7,-4.7z"/><path d="M191.7,978.3L195.0,965.0"/><path d="M195.5,1077.5L198.3,1095.8"/><circle cx="195.5" cy="1077.5" r="4.05"/><path d="M195.5,1038.3L198.3,1031.7"/><path class="d" d="M195.5,1033.6l4.7,4.7l-4.7,4.7l-4.7,-4.7z"/><path d="M195.0,965.0L197.8,971.7"/><path d="M198.3,1095.8L201.3,1077.5"/><circle cx="198.3" cy="1095.8" r="4.05"/><path d="M198.3,1031.7L201.3,1015.8"/><path class="d" d="M198.3,1027.0l4.7,4.7l-4.7,4.7l-4.7,-4.7z"/><path d="M197.8,971.7L200.8,964.2"/><path d="M201.3,1077.5L204.5,1095.8"/><circle cx="201.3" cy="1077.5" r="4.05"/><path d="M201.3,1015.8L204.5,1031.7"/><path class="d" d="M201.3,1011.1l4.7,4.7l-4.7,4.7l-4.7,-4.7z"/><path d="M200.8,964.2L204.2,964.2"/><path d="M204.5,1095.8L207.5,1089.2"/><circle cx="204.5" cy="1095.8" r="4.05"/><path d="M204.5,1031.7L207.5,1008.3"/><path class="d" d="M204.5,1027.0l4.7,4.7l-4.7,4.7l-4.7,-4.7z"/><path d="M204.2,964.2L207.5,964.2"/><path d="M207.5,1089.2L210.5,1095.8"/><circle cx="207.5" cy="1089.2" r="4.05"/><path d="M207.5,1008.3L210.5,1023.3"/><path class="d" d="M207.5,1003.6l4.7,4.7l-4.7,4.7l-4.7,-4.7z"/><path d="M207.5,964.2L210.5,957.5"/><path d="M210.5,1095.8L213.7,1089.2"/><circle cx="210.5" cy="1095.8" r="4.05"/><path d="M210.5,1023.3L213.7,1008.3"/><path class="d" d="M210.5,1018.6l4.7,4.7l-4.7,4.7l-4.7,-4.7z"/><path d="M210.5,957.5L213.7,939.2"/><path d="M213.7,1089.2L216.7,1083.3"/><circle cx="213.7" cy="1089.2" r="4.05"/><path d="M213.7,1008.3L216.7,1000.8"/><path class="d" d="M213.7,1003.6l4.7,4.7l-4.7,4.7l-4.7,-4.7z"/><path d="M213.7,939.2L216.7,984.2"/><path d="M216.7,1083.3L219.7,1083.3"/><circle cx="216.7" cy="1083.3" r="4.05"/><path d="M216.7,1000.8L219.7,1015.8"/><path class="d" d="M216.7,996.1l4.7,4.7l-4.7,4.7l-4.7,-4.7z"/><path d="M216.7,984.2L220.0,978.3"/><path d="M219.7,1083.3L222.8,1095.8"/><circle cx="219.7" cy="1083.3" r="4.05"/><path d="M219.7,1015.8L222.8,992.5"/><path class="d" d="M219.7,1011.1l4.7,4.7l-4.7,4.7l-4.7,-4.7z"/><path d="M220.0,978.3L223.3,971.7"/><path d="M222.8,1095.8L225.8,1077.5"/><circle cx="222.8" cy="1095.8" r="4.05"/><path d="M222.8,992.5L225.8,978.3"/><path class="d" d="M222.8,987.8l4.7,4.7l-4.7,4.7l-4.7,-4.7z"/><path d="M223.3,971.7L226.3,990.0"/><path d="M225.8,1077.5L229.2,1059.2"/><circle cx="225.8" cy="1077.5" r="4.05"/><path d="M225.8,978.3L229.2,978.3"/><path class="d" d="M225.8,973.6l4.7,4.7l-4.7,4.7l-4.7,-4.7z"/><path d="M226.3,990.0L229.2,996.7"/><path d="M229.2,1059.2L232.2,1040.8"/><circle cx="229.2" cy="1059.2" r="4.05"/><path d="M229.2,978.3L232.2,970.0"/><path class="d" d="M229.2,973.6l4.7,4.7l-4.7,4.7l-4.7,-4.7z"/><path d="M229.2,996.7L232.2,986.7"/><path d="M232.2,1040.8L235.0,1028.3"/><circle cx="232.2" cy="1040.8" r="4.05"/><path d="M232.2,970.0L235.0,978.3"/><path class="d" d="M232.2,965.3l4.7,4.7l-4.7,4.7l-4.7,-4.7z"/><path d="M232.2,986.7L235.0,978.3"/><path d="M235.0,1028.3L238.3,1035.0"/><circle cx="235.0" cy="1028.3" r="4.05"/><path d="M235.0,978.3L238.3,973.3"/><path class="d" d="M235.0,973.6l4.7,4.7l-4.7,4.7l-4.7,-4.7z"/><path d="M235.0,978.3L238.3,965.0"/><path d="M238.3,1035.0L241.2,1035.0"/><circle cx="238.3" cy="1035.0" r="4.05"/><path d="M238.3,973.3L241.2,976.7"/><path class="d" d="M238.3,968.6l4.7,4.7l-4.7,4.7l-4.7,-4.7z"/><path d="M238.3,965.0L241.2,980.0"/><path d="M241.2,1035.0L244.5,1028.3"/><circle cx="241.2" cy="1035.0" r="4.05"/><path d="M241.2,976.7L244.5,976.7"/><path class="d" d="M241.2,972.0l4.7,4.7l-4.7,4.7l-4.7,-4.7z"/><path d="M241.2,980.0L244.5,996.7"/><path d="M244.5,1028.3L247.5,1028.3"/><circle cx="244.5" cy="1028.3" r="4.05"/><path d="M244.5,976.7L247.5,970.0"/><path class="d" d="M244.5,972.0l4.7,4.7l-4.7,4.7l-4.7,-4.7z"/><path d="M244.5,996.7L247.5,958.3"/><path d="M247.5,1028.3L250.3,1010.0"/><circle cx="247.5" cy="1028.3" r="4.05"/><path d="M247.5,970.0L250.3,939.2"/><path class="d" d="M247.5,965.3l4.7,4.7l-4.7,4.7l-4.7,-4.7z"/><path d="M247.5,958.3L250.3,998.3"/><path d="M250.3,1010.0L253.3,1004.2"/><circle cx="250.3" cy="1010.0" r="4.05"/><path d="M250.3,939.2L253.3,923.3"/><path class="d" d="M250.3,934.5l4.7,4.7l-4.7,4.7l-4.7,-4.7z"/><path d="M250.3,998.3L253.3,1006.7"/><path d="M253.3,1004.2L256.3,996.7"/><circle cx="253.3" cy="1004.2" r="4.05"/><path d="M253.3,923.3L256.3,946.7"/><path class="d" d="M253.3,918.6l4.7,4.7l-4.7,4.7l-4.7,-4.7z"/><path d="M253.3,1006.7L256.3,1013.3"/><path d="M256.3,996.7L259.0,973.3"/><circle cx="256.3" cy="996.7" r="4.05"/><path d="M256.3,946.7L259.0,918.3"/><path class="d" d="M256.3,942.0l4.7,4.7l-4.7,4.7l-4.7,-4.7z"/><path d="M256.3,1013.3L259.0,1022.5"/><path d="M259.0,973.3L262.5,997.5"/><circle cx="259.0" cy="973.3" r="4.05"/><path d="M259.0,918.3L259.7,923.3"/><path class="d" d="M259.0,913.6l4.7,4.7l-4.7,4.7l-4.7,-4.7z"/><path d="M259.7,923.3L262.5,916.7"/><path class="d" d="M259.7,918.6l4.7,4.7l-4.7,4.7l-4.7,-4.7z"/><path d="M259.0,1022.5L262.5,1030.0"/><path d="M262.5,997.5L265.8,973.3"/><circle cx="262.5" cy="997.5" r="4.05"/><path d="M262.5,916.7L265.8,923.3"/><path class="d" d="M262.5,912.0l4.7,4.7l-4.7,4.7l-4.7,-4.7z"/><path d="M262.5,1030.0L265.8,1036.7"/><path d="M265.8,973.3L268.7,955.0"/><circle cx="265.8" cy="973.3" r="4.05"/><path d="M265.8,923.3L268.7,916.7"/><path class="d" d="M265.8,918.6l4.7,4.7l-4.7,4.7l-4.7,-4.7z"/><path d="M265.8,1036.7L268.7,1054.2"/><path d="M268.7,955.0L271.7,936.3"/><circle cx="268.7" cy="955.0" r="4.05"/><path d="M268.7,916.7L271.7,916.7"/><path class="d" d="M268.7,912.0l4.7,4.7l-4.7,4.7l-4.7,-4.7z"/><path d="M268.7,1054.2L271.7,1048.3"/><path d="M271.7,936.3L275.0,924.2"/><circle cx="271.7" cy="936.3" r="4.05"/><path d="M271.7,916.7L274.7,900.8"/><path class="d" d="M271.7,912.0l4.7,4.7l-4.7,4.7l-4.7,-4.7z"/><path d="M271.7,1048.3L274.7,1054.2"/><path d="M275.0,924.2L278.0,942.5"/><circle cx="275.0" cy="924.2" r="4.05"/><path d="M274.7,900.8L277.8,893.3"/><path class="d" d="M274.7,896.1l4.7,4.7l-4.7,4.7l-4.7,-4.7z"/><path d="M274.7,1054.2L277.8,1048.3"/><path d="M278.0,942.5L280.8,930.8"/><circle cx="278.0" cy="942.5" r="4.05"/><path d="M277.8,893.3L280.8,877.5"/><path class="d" d="M277.8,888.6l4.7,4.7l-4.7,4.7l-4.7,-4.7z"/><path d="M277.8,1048.3L280.8,1048.3"/><path d="M280.8,930.8L283.8,930.0"/><circle cx="280.8" cy="930.8" r="4.05"/><path d="M280.8,877.5L283.8,900.8"/><path class="d" d="M280.8,872.8l4.7,4.7l-4.7,4.7l-4.7,-4.7z"/><path d="M280.8,1048.3L283.8,1074.0"/><path d="M283.8,930.0L286.7,918.3"/><circle cx="283.8" cy="930.0" r="4.05"/><path d="M283.8,900.8L287.0,923.3"/><path class="d" d="M283.8,896.1l4.7,4.7l-4.7,4.7l-4.7,-4.7z"/><path d="M283.8,1074.0L287.0,1054.2"/><path d="M286.7,918.3L290.0,900.0"/><circle cx="286.7" cy="918.3" r="4.05"/><path d="M287.0,923.3L290.0,930.0"/><path class="d" d="M287.0,918.6l4.7,4.7l-4.7,4.7l-4.7,-4.7z"/><path d="M287.0,1054.2L290.0,1066.7"/><path d="M290.0,900.0L293.3,936.7"/><circle cx="290.0" cy="900.0" r="4.05"/><path d="M290.0,930.0L293.0,892.5"/><path class="d" d="M290.0,925.3l4.7,4.7l-4.7,4.7l-4.7,-4.7z"/><path d="M290.0,1066.7L293.0,1041.7"/><path d="M293.3,936.7L296.3,900.0"/><circle cx="293.3" cy="936.7" r="4.05"/><path d="M293.0,892.5L296.2,900.0"/><path class="d" d="M293.0,887.8l4.7,4.7l-4.7,4.7l-4.7,-4.7z"/><path d="M293.0,1041.7L296.2,1046.7"/><path d="M296.3,900.0L299.2,949.2"/><circle cx="296.3" cy="900.0" r="4.05"/><path d="M296.2,900.0L299.2,910.0"/><path class="d" d="M296.2,895.3l4.7,4.7l-4.7,4.7l-4.7,-4.7z"/><path d="M296.2,1046.7L299.2,1054.2"/><path d="M299.2,949.2L302.5,893.3"/><circle cx="299.2" cy="949.2" r="4.05"/><path d="M299.2,910.0L302.2,946.7"/><path class="d" d="M299.2,905.3l4.7,4.7l-4.7,4.7l-4.7,-4.7z"/><path d="M299.2,1054.2L302.5,1029.2"/><path d="M302.5,893.3L305.5,893.3"/><circle cx="302.5" cy="893.3" r="4.05"/><path d="M302.2,946.7L305.0,940.0"/><path class="d" d="M302.2,942.0l4.7,4.7l-4.7,4.7l-4.7,-4.7z"/><path d="M302.5,1029.2L305.5,1041.7"/><path d="M305.5,893.3L308.3,924.2"/><circle cx="305.5" cy="893.3" r="4.05"/><path d="M305.0,940.0L308.3,955.0"/><path class="d" d="M305.0,935.3l4.7,4.7l-4.7,4.7l-4.7,-4.7z"/><path d="M305.5,1041.7L308.3,1046.7"/><path d="M308.3,924.2L311.7,887.5"/><circle cx="308.3" cy="924.2" r="4.05"/><path d="M308.3,955.0L311.7,946.7"/><path class="d" d="M308.3,950.3l4.7,4.7l-4.7,4.7l-4.7,-4.7z"/><path d="M308.3,1046.7L311.7,1048.3"/><path d="M311.7,887.5L314.7,900.0"/><circle cx="311.7" cy="887.5" r="4.05"/><path d="M311.7,946.7L314.7,955.0"/><path class="d" d="M311.7,942.0l4.7,4.7l-4.7,4.7l-4.7,-4.7z"/><path d="M311.7,1048.3L314.7,1074.0"/><path d="M314.7,900.0L317.8,900.0"/><circle cx="314.7" cy="900.0" r="4.05"/><path d="M314.7,955.0L317.8,961.7"/><path class="d" d="M314.7,950.3l4.7,4.7l-4.7,4.7l-4.7,-4.7z"/><path d="M314.7,1074.0L317.8,1054.2"/><path d="M317.8,900.0L321.2,881.3"/><circle cx="317.8" cy="900.0" r="4.05"/><path d="M317.8,961.7L320.8,970.0"/><path class="d" d="M317.8,957.0l4.7,4.7l-4.7,4.7l-4.7,-4.7z"/><path d="M317.8,1054.2L320.8,1048.3"/><path d="M321.2,881.3L324.2,900.0"/><circle cx="321.2" cy="881.3" r="4.05"/><path d="M320.8,970.0L323.8,955.0"/><path class="d" d="M320.8,965.3l4.7,4.7l-4.7,4.7l-4.7,-4.7z"/><path d="M320.8,1048.3L323.8,1067.5"/><path d="M324.2,900.0L327.2,930.0"/><circle cx="324.2" cy="900.0" r="4.05"/><path d="M323.8,955.0L327.0,955.0"/><path class="d" d="M323.8,950.3l4.7,4.7l-4.7,4.7l-4.7,-4.7z"/><path d="M323.8,1067.5L327.0,1067.5"/><path d="M327.2,930.0L330.3,924.2"/><circle cx="327.2" cy="930.0" r="4.05"/><path d="M327.0,955.0L330.0,955.0"/><path class="d" d="M327.0,950.3l4.7,4.7l-4.7,4.7l-4.7,-4.7z"/><path d="M327.0,1067.5L330.0,1060.0"/><path d="M330.3,924.2L333.3,936.7"/><circle cx="330.3" cy="924.2" r="4.05"/><path d="M330.0,955.0L333.0,961.7"/><path class="d" d="M330.0,950.3l4.7,4.7l-4.7,4.7l-4.7,-4.7z"/><path d="M330.0,1060.0L333.0,1054.2"/><path d="M333.3,936.7L336.3,936.7"/><circle cx="333.3" cy="936.7" r="4.05"/><path d="M333.0,961.7L336.2,978.3"/><path class="d" d="M333.0,957.0l4.7,4.7l-4.7,4.7l-4.7,-4.7z"/><path d="M333.0,1054.2L336.2,1041.7"/><path d="M336.3,936.7L339.5,966.7"/><circle cx="336.3" cy="936.7" r="4.05"/><path d="M336.2,978.3L339.2,963.3"/><path class="d" d="M336.2,973.6l4.7,4.7l-4.7,4.7l-4.7,-4.7z"/><path d="M336.2,1041.7L339.2,1066.7"/><path d="M339.5,966.7L342.5,936.7"/><circle cx="339.5" cy="966.7" r="4.05"/><path d="M339.2,963.3L342.0,1001.7"/><path class="d" d="M339.2,958.6l4.7,4.7l-4.7,4.7l-4.7,-4.7z"/><path d="M339.2,1066.7L342.0,1054.2"/><path d="M342.5,936.7L345.5,955.0"/><circle cx="342.5" cy="936.7" r="4.05"/><path d="M342.0,1001.7L345.3,985.0"/><path class="d" d="M342.0,997.0l4.7,4.7l-4.7,4.7l-4.7,-4.7z"/><path d="M342.0,1054.2L345.3,1054.2"/><path d="M345.5,955.0L348.7,936.7"/><circle cx="345.5" cy="955.0" r="4.05"/><path d="M345.3,985.0L348.3,1008.3"/><path class="d" d="M345.3,980.3l4.7,4.7l-4.7,4.7l-4.7,-4.7z"/><path d="M345.3,1054.2L348.3,1054.2"/><path d="M348.7,936.7L351.7,936.7"/><circle cx="348.7" cy="936.7" r="4.05"/><path d="M348.3,1008.3L351.3,993.3"/><path class="d" d="M348.3,1003.6l4.7,4.7l-4.7,4.7l-4.7,-4.7z"/><path d="M348.3,1054.2L351.3,1066.7"/><path d="M351.7,936.7L354.7,942.5"/><circle cx="351.7" cy="936.7" r="4.05"/><path d="M351.3,993.3L354.5,1015.8"/><path class="d" d="M351.3,988.6l4.7,4.7l-4.7,4.7l-4.7,-4.7z"/><path d="M351.3,1066.7L354.5,1080.0"/><path d="M354.7,942.5L357.8,942.5"/><circle cx="354.7" cy="942.5" r="4.05"/><path d="M354.5,1015.8L357.5,1024.2"/><path class="d" d="M354.5,1011.1l4.7,4.7l-4.7,4.7l-4.7,-4.7z"/><path d="M354.5,1080.0L357.5,1070.0"/><path d="M357.8,942.5L360.8,960.8"/><circle cx="357.8" cy="942.5" r="4.05"/><path d="M357.5,1024.2L360.8,1015.8"/><path class="d" d="M357.5,1019.5l4.7,4.7l-4.7,4.7l-4.7,-4.7z"/><path d="M357.5,1070.0L360.8,1048.3"/><path d="M360.8,960.8L363.8,930.0"/><circle cx="360.8" cy="960.8" r="4.05"/><path d="M360.8,1015.8L363.7,1039.2"/><path class="d" d="M360.8,1011.1l4.7,4.7l-4.7,4.7l-4.7,-4.7z"/><path d="M360.8,1048.3L363.7,1054.2"/><path d="M363.8,930.0L367.0,948.3"/><circle cx="363.8" cy="930.0" r="4.05"/><path d="M363.7,1039.2L366.7,1046.7"/><path class="d" d="M363.7,1034.5l4.7,4.7l-4.7,4.7l-4.7,-4.7z"/><path d="M363.7,1054.2L366.7,1035.8"/><path d="M367.0,948.3L370.0,936.7"/><circle cx="367.0" cy="948.3" r="4.05"/><path d="M366.7,1046.7L370.0,1046.7"/><path class="d" d="M366.7,1042.0l4.7,4.7l-4.7,4.7l-4.7,-4.7z"/><path d="M366.7,1035.8L370.0,1035.0"/><path d="M370.0,936.7L373.0,936.7"/><circle cx="370.0" cy="936.7" r="4.05"/><path d="M370.0,1046.7L373.0,1054.2"/><path class="d" d="M370.0,1042.0l4.7,4.7l-4.7,4.7l-4.7,-4.7z"/><path d="M370.0,1035.0L373.0,1029.2"/><path d="M373.0,936.7L376.2,942.5"/><circle cx="373.0" cy="936.7" r="4.05"/><path d="M373.0,1054.2L376.2,1061.7"/><path class="d" d="M373.0,1049.5l4.7,4.7l-4.7,4.7l-4.7,-4.7z"/><path d="M373.0,1029.2L376.2,1028.3"/><path d="M376.2,942.5L379.2,936.7"/><circle cx="376.2" cy="942.5" r="4.05"/><path d="M376.2,1061.7L379.2,1054.2"/><path class="d" d="M376.2,1057.0l4.7,4.7l-4.7,4.7l-4.7,-4.7z"/><path d="M376.2,1028.3L379.2,1028.3"/><path d="M379.2,936.7L382.2,960.8"/><circle cx="379.2" cy="936.7" r="4.05"/><path d="M379.2,1054.2L382.5,1070.0"/><path class="d" d="M379.2,1049.5l4.7,4.7l-4.7,4.7l-4.7,-4.7z"/><path d="M379.2,1028.3L382.5,1041.7"/><path d="M382.2,960.8L385.3,979.2"/><circle cx="382.2" cy="960.8" r="4.05"/><path d="M382.5,1070.0L385.5,1070.0"/><path class="d" d="M382.5,1065.3l4.7,4.7l-4.7,4.7l-4.7,-4.7z"/><path d="M382.5,1041.7L385.5,1029.2"/><path d="M385.3,979.2L388.3,960.8"/><circle cx="385.3" cy="979.2" r="4.05"/><path d="M385.5,1070.0L388.3,1061.7"/><path class="d" d="M385.5,1065.3l4.7,4.7l-4.7,4.7l-4.7,-4.7z"/><path d="M385.5,1029.2L388.3,1029.2"/><path d="M388.3,960.8L391.3,966.7"/><circle cx="388.3" cy="960.8" r="4.05"/><path d="M388.3,1061.7L391.3,1054.2"/><path class="d" d="M388.3,1057.0l4.7,4.7l-4.7,4.7l-4.7,-4.7z"/><path d="M388.3,1029.2L391.3,1022.5"/><path d="M391.3,966.7L394.5,955.0"/><circle cx="391.3" cy="966.7" r="4.05"/><path d="M391.3,1054.2L394.5,1061.7"/><path class="d" d="M391.3,1049.5l4.7,4.7l-4.7,4.7l-4.7,-4.7z"/><path d="M391.3,1022.5L394.5,1035.0"/><path d="M394.5,955.0L397.5,973.3"/><circle cx="394.5" cy="955.0" r="4.05"/><path d="M394.5,1061.7L397.5,1061.7"/><path class="d" d="M394.5,1057.0l4.7,4.7l-4.7,4.7l-4.7,-4.7z"/><path d="M394.5,1035.0L397.5,1041.7"/><path d="M397.5,973.3L399.0,960.8"/><circle cx="397.5" cy="973.3" r="4.05"/><path d="M399.0,960.8L400.5,960.8"/><circle cx="399.0" cy="960.8" r="4.05"/><path d="M397.5,1061.7L399.0,1031.7"/><path class="d" d="M397.5,1057.0l4.7,4.7l-4.7,4.7l-4.7,-4.7z"/><path d="M399.0,1031.7L400.8,1031.7"/><path class="d" d="M399.0,1027.0l4.7,4.7l-4.7,4.7l-4.7,-4.7z"/><path d="M397.5,1041.7L399.0,1041.7"/><path d="M399.0,1041.7L402.5,1050.0"/><path d="M400.5,960.8L403.7,955.0"/><circle cx="400.5" cy="960.8" r="4.05"/><path d="M400.8,1031.7L403.7,1046.7"/><path class="d" d="M400.8,1027.0l4.7,4.7l-4.7,4.7l-4.7,-4.7z"/><path d="M403.7,955.0L406.7,973.3"/><circle cx="403.7" cy="955.0" r="4.05"/><path d="M403.7,1046.7L406.7,1038.3"/><path class="d" d="M403.7,1042.0l4.7,4.7l-4.7,4.7l-4.7,-4.7z"/><path d="M402.5,1050.0L405.0,1036.7"/><path d="M405.0,1036.7L408.3,1053.3"/><path d="M406.7,973.3L409.7,967.0"/><circle cx="406.7" cy="973.3" r="4.05"/><path d="M406.7,1038.3L409.7,1031.7"/><path class="d" d="M406.7,1033.6l4.7,4.7l-4.7,4.7l-4.7,-4.7z"/><path d="M408.3,1053.3L410.8,1040.0"/><path d="M409.7,967.0L412.5,979.5"/><circle cx="409.7" cy="967.0" r="4.05"/><path d="M409.7,1031.7L412.5,1040.0"/><path class="d" d="M409.7,1027.0l4.7,4.7l-4.7,4.7l-4.7,-4.7z"/><path d="M410.8,1040.0L414.2,1050.0"/><path d="M412.5,979.5L415.8,948.7"/><circle cx="412.5" cy="979.5" r="4.05"/><path d="M412.5,1040.0L415.8,1053.3"/><path class="d" d="M412.5,1035.3l4.7,4.7l-4.7,4.7l-4.7,-4.7z"/><path d="M414.2,1050.0L416.7,1041.7"/><path d="M415.8,948.7L418.8,979.5"/><circle cx="415.8" cy="948.7" r="4.05"/><path d="M415.8,1053.3L418.8,1053.3"/><path class="d" d="M415.8,1048.6l4.7,4.7l-4.7,4.7l-4.7,-4.7z"/><path d="M416.7,1041.7L420.0,1043.3"/><path d="M418.8,979.5L422.0,979.5"/><circle cx="418.8" cy="979.5" r="4.05"/><path d="M418.8,1053.3L421.7,1061.7"/><path class="d" d="M418.8,1048.6l4.7,4.7l-4.7,4.7l-4.7,-4.7z"/><path d="M420.0,1043.3L423.3,1053.3"/><path d="M422.0,979.5L425.0,979.5"/><circle cx="422.0" cy="979.5" r="4.05"/><path d="M421.7,1061.7L424.7,1053.3"/><path class="d" d="M421.7,1057.0l4.7,4.7l-4.7,4.7l-4.7,-4.7z"/><path d="M423.3,1053.3L425.8,1043.3"/><path d="M425.0,979.5L428.0,991.7"/><circle cx="425.0" cy="979.5" r="4.05"/><path d="M424.7,1053.3L427.8,1070.0"/><path class="d" d="M424.7,1048.6l4.7,4.7l-4.7,4.7l-4.7,-4.7z"/><path d="M425.8,1043.3L428.3,1035.0"/><path d="M428.0,991.7L430.8,991.7"/><circle cx="428.0" cy="991.7" r="4.05"/><path d="M427.8,1070.0L430.8,1053.3"/><path class="d" d="M427.8,1065.3l4.7,4.7l-4.7,4.7l-4.7,-4.7z"/><path d="M428.3,1035.0L430.8,1035.0"/><path d="M430.8,991.7L434.2,1010.0"/><circle cx="430.8" cy="991.7" r="4.05"/><path d="M430.8,1053.3L434.2,1039.2"/><path class="d" d="M430.8,1048.6l4.7,4.7l-4.7,4.7l-4.7,-4.7z"/><path d="M430.8,1035.0L434.2,1028.3"/><path d="M434.2,1010.0L437.2,991.7"/><circle cx="434.2" cy="1010.0" r="4.05"/><path d="M434.2,1039.2L436.7,1077.5"/><path class="d" d="M434.2,1034.5l4.7,4.7l-4.7,4.7l-4.7,-4.7z"/><path d="M434.2,1028.3L437.2,1021.7"/><path d="M437.2,991.7L440.0,997.8"/><circle cx="437.2" cy="991.7" r="4.05"/><path d="M436.7,1077.5L440.0,1070.0"/><path class="d" d="M436.7,1072.8l4.7,4.7l-4.7,4.7l-4.7,-4.7z"/><path d="M437.2,1021.7L440.0,1020.8"/><path d="M440.0,997.8L443.3,1004.2"/><circle cx="440.0" cy="997.8" r="4.05"/><path d="M440.0,1070.0L443.3,1062.5"/><path class="d" d="M440.0,1065.3l4.7,4.7l-4.7,4.7l-4.7,-4.7z"/><path d="M440.0,1020.8L443.3,983.3"/><path d="M443.3,1004.2L446.3,991.7"/><circle cx="443.3" cy="1004.2" r="4.05"/><path d="M443.3,1062.5L446.3,1077.5"/><path class="d" d="M443.3,1057.8l4.7,4.7l-4.7,4.7l-4.7,-4.7z"/><path d="M443.3,983.3L446.3,996.7"/><path d="M446.3,991.7L449.5,1010.0"/><circle cx="446.3" cy="991.7" r="4.05"/><path d="M446.3,1077.5L449.5,1077.5"/><path class="d" d="M446.3,1072.8l4.7,4.7l-4.7,4.7l-4.7,-4.7z"/><path d="M446.3,996.7L449.5,1013.3"/><path d="M449.5,1010.0L452.5,1016.2"/><circle cx="449.5" cy="1010.0" r="4.05"/><path d="M449.5,1077.5L452.5,1077.5"/><path class="d" d="M449.5,1072.8l4.7,4.7l-4.7,4.7l-4.7,-4.7z"/><path d="M449.5,1013.3L452.5,1023.3"/><path d="M452.5,1016.2L455.5,997.8"/><circle cx="452.5" cy="1016.2" r="4.05"/><path d="M452.5,1077.5L455.5,1062.5"/><path class="d" d="M452.5,1072.8l4.7,4.7l-4.7,4.7l-4.7,-4.7z"/><path d="M452.5,1023.3L455.5,1029.2"/><path d="M455.5,997.8L458.7,1004.2"/><circle cx="455.5" cy="997.8" r="4.05"/><path d="M455.5,1062.5L458.7,1054.2"/><path class="d" d="M455.5,1057.8l4.7,4.7l-4.7,4.7l-4.7,-4.7z"/><path d="M455.5,1029.2L458.7,1029.2"/><path d="M458.7,1004.2L461.7,991.7"/><circle cx="458.7" cy="1004.2" r="4.05"/><path d="M458.7,1054.2L461.7,1062.5"/><path class="d" d="M458.7,1049.5l4.7,4.7l-4.7,4.7l-4.7,-4.7z"/><path d="M458.7,1029.2L461.7,1022.5"/><path d="M461.7,991.7L464.7,1022.5"/><circle cx="461.7" cy="991.7" r="4.05"/><path d="M461.7,1062.5L464.7,1062.5"/><path class="d" d="M461.7,1057.8l4.7,4.7l-4.7,4.7l-4.7,-4.7z"/><path d="M461.7,1022.5L464.7,1043.3"/><path d="M464.7,1022.5L467.8,1022.2"/><circle cx="464.7" cy="1022.5" r="4.05"/><path d="M464.7,1062.5L467.8,1070.0"/><path class="d" d="M464.7,1057.8l4.7,4.7l-4.7,4.7l-4.7,-4.7z"/><path d="M464.7,1043.3L467.8,1035.0"/><path d="M467.8,1022.2L470.8,991.7"/><circle cx="467.8" cy="1022.2" r="4.05"/><path d="M467.8,1070.0L470.8,1054.2"/><path class="d" d="M467.8,1065.3l4.7,4.7l-4.7,4.7l-4.7,-4.7z"/><path d="M467.8,1035.0L470.8,1060.0"/><path d="M470.8,991.7L473.8,997.8"/><circle cx="470.8" cy="991.7" r="4.05"/><path d="M470.8,1054.2L473.8,1054.2"/><path class="d" d="M470.8,1049.5l4.7,4.7l-4.7,4.7l-4.7,-4.7z"/><path d="M470.8,1060.0L473.8,1035.0"/><path d="M473.8,997.8L477.0,973.3"/><circle cx="473.8" cy="997.8" r="4.05"/><path d="M473.8,1054.2L477.0,1046.7"/><path class="d" d="M473.8,1049.5l4.7,4.7l-4.7,4.7l-4.7,-4.7z"/><path d="M473.8,1035.0L477.0,1053.3"/><path d="M477.0,973.3L480.0,1010.0"/><circle cx="477.0" cy="973.3" r="4.05"/><path d="M477.0,1046.7L480.0,1062.5"/><path class="d" d="M477.0,1042.0l4.7,4.7l-4.7,4.7l-4.7,-4.7z"/><path d="M477.0,1053.3L480.0,1038.3"/><path d="M480.0,1010.0L483.0,985.5"/><circle cx="480.0" cy="1010.0" r="4.05"/><path d="M480.0,1062.5L483.0,1062.5"/><path class="d" d="M480.0,1057.8l4.7,4.7l-4.7,4.7l-4.7,-4.7z"/><path d="M480.0,1038.3L483.0,1022.5"/><path d="M483.0,985.5L486.2,997.8"/><circle cx="483.0" cy="985.5" r="4.05"/><path d="M483.0,1062.5L486.2,1054.2"/><path class="d" d="M483.0,1057.8l4.7,4.7l-4.7,4.7l-4.7,-4.7z"/><path d="M483.0,1022.5L486.2,1053.3"/><path d="M486.2,997.8L489.2,1016.2"/><circle cx="486.2" cy="997.8" r="4.05"/><path d="M486.2,1054.2L489.2,1085.0"/><path class="d" d="M486.2,1049.5l4.7,4.7l-4.7,4.7l-4.7,-4.7z"/><path d="M486.2,1053.3L489.2,1035.0"/><path d="M489.2,1016.2L492.2,991.7"/><circle cx="489.2" cy="1016.2" r="4.05"/><path d="M489.2,1085.0L492.2,1077.5"/><path class="d" d="M489.2,1080.3l4.7,4.7l-4.7,4.7l-4.7,-4.7z"/><path d="M489.2,1035.0L492.2,1046.7"/><path d="M492.2,991.7L495.0,1028.3"/><circle cx="492.2" cy="991.7" r="4.05"/><path d="M492.2,1077.5L495.0,1070.0"/><path class="d" d="M492.2,1072.8l4.7,4.7l-4.7,4.7l-4.7,-4.7z"/><path d="M492.2,1046.7L495.0,1055.0"/><path d="M495.0,1028.3L498.3,1022.2"/><circle cx="495.0" cy="1028.3" r="4.05"/><path d="M495.0,1070.0L498.3,1070.0"/><path class="d" d="M495.0,1065.3l4.7,4.7l-4.7,4.7l-4.7,-4.7z"/><path d="M495.0,1055.0L498.3,1021.7"/><path d="M498.3,1022.2L501.3,1004.2"/><circle cx="498.3" cy="1022.2" r="4.05"/><path d="M498.3,1070.0L501.3,1054.2"/><path class="d" d="M498.3,1065.3l4.7,4.7l-4.7,4.7l-4.7,-4.7z"/><path d="M498.3,1021.7L501.3,1061.7"/><path d="M501.3,1004.2L504.5,973.3"/><circle cx="501.3" cy="1004.2" r="4.05"/><path d="M501.3,1054.2L504.5,1046.7"/><path class="d" d="M501.3,1049.5l4.7,4.7l-4.7,4.7l-4.7,-4.7z"/><path d="M501.3,1061.7L504.5,1070.0"/><path d="M504.5,973.3L507.5,1010.0"/><circle cx="504.5" cy="973.3" r="4.05"/><path d="M504.5,1046.7L507.5,1070.0"/><path class="d" d="M504.5,1042.0l4.7,4.7l-4.7,4.7l-4.7,-4.7z"/><path d="M504.5,1070.0L507.5,1071.7"/><path d="M507.5,1010.0L510.5,1010.0"/><circle cx="507.5" cy="1010.0" r="4.05"/><path d="M507.5,1070.0L510.5,1077.5"/><path class="d" d="M507.5,1065.3l4.7,4.7l-4.7,4.7l-4.7,-4.7z"/><path d="M507.5,1071.7L510.5,1073.3"/><path d="M510.5,1010.0L513.7,1010.0"/><circle cx="510.5" cy="1010.0" r="4.05"/><path d="M510.5,1077.5L513.7,1062.5"/><path class="d" d="M510.5,1072.8l4.7,4.7l-4.7,4.7l-4.7,-4.7z"/><path d="M510.5,1073.3L513.7,1071.7"/><path d="M513.7,1010.0L516.7,1016.2"/><circle cx="513.7" cy="1010.0" r="4.05"/><path d="M513.7,1062.5L516.7,1070.0"/><path class="d" d="M513.7,1057.8l4.7,4.7l-4.7,4.7l-4.7,-4.7z"/><path d="M513.7,1071.7L516.7,1080.0"/><path d="M516.7,1016.2L520.0,1028.3"/><circle cx="516.7" cy="1016.2" r="4.05"/><path d="M516.7,1070.0L520.0,1054.2"/><path class="d" d="M516.7,1065.3l4.7,4.7l-4.7,4.7l-4.7,-4.7z"/><path d="M516.7,1080.0L520.0,1080.0"/><path d="M520.0,1028.3L523.0,1034.7"/><circle cx="520.0" cy="1028.3" r="4.05"/><path d="M520.0,1054.2L523.0,1070.0"/><path class="d" d="M520.0,1049.5l4.7,4.7l-4.7,4.7l-4.7,-4.7z"/><path d="M520.0,1080.0L523.0,1053.3"/><path d="M523.0,1034.7L526.2,1046.7"/><circle cx="523.0" cy="1034.7" r="4.05"/><path d="M523.0,1070.0L526.2,1046.7"/><path class="d" d="M523.0,1065.3l4.7,4.7l-4.7,4.7l-4.7,-4.7z"/><path d="M523.0,1053.3L526.2,1046.7"/><path d="M526.2,1046.7L529.2,1046.7"/><circle cx="526.2" cy="1046.7" r="4.05"/><path d="M526.2,1046.7L529.2,1056.7"/><path class="d" d="M526.2,1042.0l4.7,4.7l-4.7,4.7l-4.7,-4.7z"/><path d="M526.2,1046.7L529.2,1063.3"/><path d="M529.2,1046.7L532.5,1052.8"/><circle cx="529.2" cy="1046.7" r="4.05"/><path d="M529.2,1056.7L532.5,1070.0"/><path class="d" d="M529.2,1052.0l4.7,4.7l-4.7,4.7l-4.7,-4.7z"/><path d="M529.2,1063.3L532.5,1053.3"/><path d="M532.5,1052.8L535.8,1052.8"/><circle cx="532.5" cy="1052.8" r="4.05"/><path d="M532.5,1070.0L535.8,1054.2"/><path class="d" d="M532.5,1065.3l4.7,4.7l-4.7,4.7l-4.7,-4.7z"/><path d="M532.5,1053.3L535.8,1066.7"/><path d="M535.8,1052.8L539.0,1059.2"/><circle cx="535.8" cy="1052.8" r="4.05"/><path d="M535.8,1054.2L539.0,1085.0"/><path class="d" d="M535.8,1049.5l4.7,4.7l-4.7,4.7l-4.7,-4.7z"/><path d="M535.8,1066.7L539.0,1063.3"/><path d="M539.0,1059.2L540.0,1071.7"/><circle cx="539.0" cy="1059.2" r="4.05"/><path d="M540.0,1071.7L544.2,1071.7"/><circle cx="540.0" cy="1071.7" r="4.05"/><path d="M539.0,1085.0L540.8,1085.0"/><path class="d" d="M539.0,1080.3l4.7,4.7l-4.7,4.7l-4.7,-4.7z"/><path d="M539.0,1063.3L541.7,1048.3"/><path d="M540.8,1085.0L543.7,1100.8"/><path class="d" d="M540.8,1080.3l4.7,4.7l-4.7,4.7l-4.7,-4.7z"/><path d="M541.7,1048.3L545.0,1071.7"/><path d="M544.2,1071.7L547.5,1065.0"/><circle cx="544.2" cy="1071.7" r="4.05"/><path d="M543.7,1100.8L546.7,1100.8"/><path class="d" d="M543.7,1096.1l4.7,4.7l-4.7,4.7l-4.7,-4.7z"/><path d="M545.0,1071.7L548.3,1076.7"/><path d="M547.5,1065.0L550.3,1077.5"/><circle cx="547.5" cy="1065.0" r="4.05"/><path d="M546.7,1100.8L549.7,1093.3"/><path class="d" d="M546.7,1096.1l4.7,4.7l-4.7,4.7l-4.7,-4.7z"/><path d="M548.3,1076.7L550.8,1060.8"/><path d="M550.3,1077.5L553.3,1071.7"/><circle cx="550.3" cy="1077.5" r="4.05"/><path d="M549.7,1093.3L552.5,1085.0"/><path class="d" d="M549.7,1088.6l4.7,4.7l-4.7,4.7l-4.7,-4.7z"/><path d="M552.5,1085.0L555.8,1093.3"/><path class="d" d="M552.5,1080.3l4.7,4.7l-4.7,4.7l-4.7,-4.7z"/><path d="M550.8,1060.8L554.2,1070.0"/><path d="M553.3,1071.7L556.3,1077.5"/><circle cx="553.3" cy="1071.7" r="4.05"/><path d="M554.2,1070.0L557.5,1073.3"/><path d="M556.3,1077.5L559.5,1071.7"/><circle cx="556.3" cy="1077.5" r="4.05"/><path d="M555.8,1093.3L558.8,1085.0"/><path class="d" d="M555.8,1088.6l4.7,4.7l-4.7,4.7l-4.7,-4.7z"/><path d="M557.5,1073.3L560.8,1068.3"/><path d="M559.5,1071.7L562.5,1071.7"/><circle cx="559.5" cy="1071.7" r="4.05"/><path d="M558.8,1085.0L561.7,1093.3"/><path class="d" d="M558.8,1080.3l4.7,4.7l-4.7,4.7l-4.7,-4.7z"/><path d="M561.7,1093.3L565.0,1086.7"/><path class="d" d="M561.7,1088.6l4.7,4.7l-4.7,4.7l-4.7,-4.7z"/><path d="M560.8,1068.3L564.2,1068.3"/><path d="M562.5,1071.7L565.8,1077.5"/><circle cx="562.5" cy="1071.7" r="4.05"/><path d="M564.2,1068.3L567.5,1054.2"/><path d="M565.8,1077.5L569.2,1083.3"/><circle cx="565.8" cy="1077.5" r="4.05"/><path d="M565.0,1086.7L568.0,1085.0"/><path class="d" d="M565.0,1082.0l4.7,4.7l-4.7,4.7l-4.7,-4.7z"/><path d="M567.5,1054.2L571.7,1054.2"/><path d="M569.2,1083.3L571.7,1071.7"/><circle cx="569.2" cy="1083.3" r="4.05"/><path d="M568.0,1085.0L571.2,1093.3"/><path class="d" d="M568.0,1080.3l4.7,4.7l-4.7,4.7l-4.7,-4.7z"/><path d="M571.7,1071.7L574.2,1071.7"/><circle cx="571.7" cy="1071.7" r="4.05"/><path d="M571.2,1093.3L574.2,1093.3"/><path class="d" d="M571.2,1088.6l4.7,4.7l-4.7,4.7l-4.7,-4.7z"/><path d="M571.7,1054.2L575.0,1076.7"/><path d="M574.2,1071.7L577.5,1071.7"/><circle cx="574.2" cy="1071.7" r="4.05"/><path d="M574.2,1093.3L577.5,1078.3"/><path class="d" d="M574.2,1088.6l4.7,4.7l-4.7,4.7l-4.7,-4.7z"/><path d="M575.0,1076.7L578.0,1054.2"/><path d="M577.5,1071.7L580.8,1059.2"/><circle cx="577.5" cy="1071.7" r="4.05"/><path d="M577.5,1078.3L580.8,1085.0"/><path class="d" d="M577.5,1073.6l4.7,4.7l-4.7,4.7l-4.7,-4.7z"/><path d="M578.0,1054.2L580.8,1070.0"/><path d="M580.8,1059.2L583.8,1065.0"/><circle cx="580.8" cy="1059.2" r="4.05"/><path d="M580.8,1085.0L583.8,1085.0"/><path class="d" d="M580.8,1080.3l4.7,4.7l-4.7,4.7l-4.7,-4.7z"/><path d="M580.8,1070.0L583.8,1078.3"/><path d="M583.8,1065.0L587.0,1071.7"/><circle cx="583.8" cy="1065.0" r="4.05"/><path d="M583.8,1085.0L587.0,1093.3"/><path class="d" d="M583.8,1080.3l4.7,4.7l-4.7,4.7l-4.7,-4.7z"/><path d="M583.8,1078.3L587.0,1085.0"/><path d="M587.0,1071.7L590.0,1065.0"/><circle cx="587.0" cy="1071.7" r="4.05"/><path d="M587.0,1093.3L590.0,1078.3"/><path class="d" d="M587.0,1088.6l4.7,4.7l-4.7,4.7l-4.7,-4.7z"/><path d="M587.0,1085.0L590.0,1071.7"/><path d="M590.0,1065.0L593.0,1065.0"/><circle cx="590.0" cy="1065.0" r="4.05"/><path d="M590.0,1078.3L593.0,1078.3"/><path class="d" d="M590.0,1073.6l4.7,4.7l-4.7,4.7l-4.7,-4.7z"/><path d="M590.0,1071.7L593.0,1076.7"/><path d="M593.0,1065.0L596.2,1065.0"/><circle cx="593.0" cy="1065.0" r="4.05"/><path d="M593.0,1078.3L596.2,1071.7"/><path class="d" d="M593.0,1073.6l4.7,4.7l-4.7,4.7l-4.7,-4.7z"/><path d="M593.0,1076.7L596.2,1070.0"/><path d="M596.2,1065.0L599.2,1065.0"/><circle cx="596.2" cy="1065.0" r="4.05"/><path d="M596.2,1071.7L599.2,1085.0"/><path class="d" d="M596.2,1067.0l4.7,4.7l-4.7,4.7l-4.7,-4.7z"/><path d="M596.2,1070.0L599.2,1086.7"/><path d="M599.2,1065.0L602.2,1077.5"/><circle cx="599.2" cy="1065.0" r="4.05"/><path d="M599.2,1085.0L602.2,1093.3"/><path class="d" d="M599.2,1080.3l4.7,4.7l-4.7,4.7l-4.7,-4.7z"/><path d="M599.2,1086.7L602.2,1093.3"/><path d="M602.2,1077.5L605.3,1071.7"/><circle cx="602.2" cy="1077.5" r="4.05"/><path d="M602.2,1093.3L605.3,1093.3"/><path class="d" d="M602.2,1088.6l4.7,4.7l-4.7,4.7l-4.7,-4.7z"/><path d="M602.2,1093.3L605.3,1076.7"/><path d="M605.3,1071.7L608.3,1065.0"/><circle cx="605.3" cy="1071.7" r="4.05"/><path d="M605.3,1093.3L608.3,1093.3"/><path class="d" d="M605.3,1088.6l4.7,4.7l-4.7,4.7l-4.7,-4.7z"/><path d="M605.3,1076.7L608.3,1086.7"/><path d="M608.3,1065.0L611.3,1071.7"/><circle cx="608.3" cy="1065.0" r="4.05"/><path d="M608.3,1093.3L611.3,1108.3"/><path class="d" d="M608.3,1088.6l4.7,4.7l-4.7,4.7l-4.7,-4.7z"/><path d="M608.3,1086.7L611.3,1070.0"/><path d="M611.3,1071.7L614.7,1059.2"/><circle cx="611.3" cy="1071.7" r="4.05"/><path d="M611.3,1108.3L614.7,1108.3"/><path class="d" d="M611.3,1103.6l4.7,4.7l-4.7,4.7l-4.7,-4.7z"/><path d="M611.3,1070.0L614.7,1065.0"/><path d="M614.7,1059.2L617.8,1108.3"/><circle cx="614.7" cy="1059.2" r="4.05"/><path d="M614.7,1108.3L617.8,1124.2"/><path class="d" d="M614.7,1103.6l4.7,4.7l-4.7,4.7l-4.7,-4.7z"/><path d="M614.7,1065.0L617.8,1103.3"/><path d="M617.8,1108.3L620.8,1108.3"/><circle cx="617.8" cy="1108.3" r="4.05"/><path d="M617.8,1124.2L620.8,1108.3"/><path class="d" d="M617.8,1119.5l4.7,4.7l-4.7,4.7l-4.7,-4.7z"/><path d="M617.8,1103.3L620.8,1096.7"/><path d="M620.8,1108.3L624.2,1114.2"/><circle cx="620.8" cy="1108.3" r="4.05"/><path d="M620.8,1108.3L624.2,1115.0"/><path class="d" d="M620.8,1103.6l4.7,4.7l-4.7,4.7l-4.7,-4.7z"/><path d="M620.8,1096.7L624.2,1091.7"/><path d="M624.2,1114.2L627.2,1145.0"/><circle cx="624.2" cy="1114.2" r="4.05"/><path d="M624.2,1115.0L627.2,1169.5"/><path class="d" d="M624.2,1110.3l4.7,4.7l-4.7,4.7l-4.7,-4.7z"/><path d="M624.2,1091.7L627.2,1085.8"/><path d="M627.2,1145.0L630.0,1071.7"/><circle cx="627.2" cy="1145.0" r="4.05"/><path d="M627.2,1169.5L630.0,1093.3"/><path class="d" d="M627.2,1164.8l4.7,4.7l-4.7,4.7l-4.7,-4.7z"/><path d="M627.2,1085.8L630.0,1085.8"/><path d="M630.0,1071.7L633.3,1059.2"/><circle cx="630.0" cy="1071.7" r="4.05"/><path d="M630.0,1093.3L633.3,1100.0"/><path class="d" d="M630.0,1088.6l4.7,4.7l-4.7,4.7l-4.7,-4.7z"/><path d="M630.0,1085.8L633.3,1085.8"/><path d="M633.3,1059.2L636.3,1071.7"/><circle cx="633.3" cy="1059.2" r="4.05"/><path d="M633.3,1100.0L636.3,1116.7"/><path class="d" d="M633.3,1095.3l4.7,4.7l-4.7,4.7l-4.7,-4.7z"/><path d="M633.3,1085.8L636.3,1085.8"/><path d="M636.3,1071.7L639.5,1071.7"/><circle cx="636.3" cy="1071.7" r="4.05"/><path d="M636.3,1116.7L639.5,1116.7"/><path class="d" d="M636.3,1112.0l4.7,4.7l-4.7,4.7l-4.7,-4.7z"/><path d="M636.3,1085.8L639.5,1085.8"/><path d="M639.5,1071.7L642.5,1046.7"/><circle cx="639.5" cy="1071.7" r="4.05"/><path d="M639.5,1116.7L642.5,1116.7"/><path class="d" d="M639.5,1112.0l4.7,4.7l-4.7,4.7l-4.7,-4.7z"/><path d="M639.5,1085.8L642.5,1111.7"/><path d="M642.5,1046.7L645.5,1065.0"/><circle cx="642.5" cy="1046.7" r="4.05"/><path d="M642.5,1116.7L645.5,1116.7"/><path class="d" d="M642.5,1112.0l4.7,4.7l-4.7,4.7l-4.7,-4.7z"/><path d="M642.5,1111.7L645.5,1090.0"/><path d="M645.5,1065.0L648.7,1059.2"/><circle cx="645.5" cy="1065.0" r="4.05"/><path d="M645.5,1116.7L648.7,1108.3"/><path class="d" d="M645.5,1112.0l4.7,4.7l-4.7,4.7l-4.7,-4.7z"/><path d="M645.5,1090.0L648.7,1086.7"/><path d="M648.7,1059.2L651.7,1046.7"/><circle cx="648.7" cy="1059.2" r="4.05"/><path d="M648.7,1108.3L651.7,1108.3"/><path class="d" d="M648.7,1103.6l4.7,4.7l-4.7,4.7l-4.7,-4.7z"/><path d="M648.7,1086.7L651.7,1093.3"/><path d="M651.7,1046.7L654.7,1046.7"/><circle cx="651.7" cy="1046.7" r="4.05"/><path d="M651.7,1108.3L654.7,1116.7"/><path class="d" d="M651.7,1103.6l4.7,4.7l-4.7,4.7l-4.7,-4.7z"/><path d="M651.7,1093.3L654.7,1068.3"/><path d="M654.7,1046.7L657.8,1046.7"/><circle cx="654.7" cy="1046.7" r="4.05"/><path d="M654.7,1116.7L657.8,1116.7"/><path class="d" d="M654.7,1112.0l4.7,4.7l-4.7,4.7l-4.7,-4.7z"/><path d="M654.7,1068.3L657.8,1068.3"/><path d="M657.8,1046.7L660.8,1028.3"/><circle cx="657.8" cy="1046.7" r="4.05"/><path d="M657.8,1116.7L660.8,1108.3"/><path class="d" d="M657.8,1112.0l4.7,4.7l-4.7,4.7l-4.7,-4.7z"/><path d="M657.8,1068.3L660.8,1066.7"/><path d="M660.8,1028.3L663.8,1046.7"/><circle cx="660.8" cy="1028.3" r="4.05"/><path d="M660.8,1108.3L663.8,1124.2"/><path class="d" d="M660.8,1103.6l4.7,4.7l-4.7,4.7l-4.7,-4.7z"/><path d="M660.8,1066.7L663.8,1050.0"/><path d="M663.8,1046.7L667.0,1046.7"/><circle cx="663.8" cy="1046.7" r="4.05"/><path d="M663.8,1124.2L667.0,1139.2"/><path class="d" d="M663.8,1119.5l4.7,4.7l-4.7,4.7l-4.7,-4.7z"/><path d="M663.8,1050.0L667.0,1060.0"/><path d="M667.0,1046.7L670.0,1046.7"/><circle cx="667.0" cy="1046.7" r="4.05"/><path d="M667.0,1139.2L670.0,1116.7"/><path class="d" d="M667.0,1134.5l4.7,4.7l-4.7,4.7l-4.7,-4.7z"/><path d="M667.0,1060.0L670.0,1053.3"/><path d="M670.0,1046.7L673.0,1046.7"/><circle cx="670.0" cy="1046.7" r="4.05"/><path d="M670.0,1116.7L673.0,1131.7"/><path class="d" d="M670.0,1112.0l4.7,4.7l-4.7,4.7l-4.7,-4.7z"/><path d="M670.0,1053.3L673.0,1050.0"/><path d="M673.0,1046.7L676.2,1040.8"/><circle cx="673.0" cy="1046.7" r="4.05"/><path d="M673.0,1131.7L676.2,1131.7"/><path class="d" d="M673.0,1127.0l4.7,4.7l-4.7,4.7l-4.7,-4.7z"/><path d="M673.0,1050.0L676.2,1066.7"/><path d="M676.2,1040.8L679.0,1046.7"/><circle cx="676.2" cy="1040.8" r="4.05"/><path d="M676.2,1131.7L679.0,1122.5"/><path class="d" d="M676.2,1127.0l4.7,4.7l-4.7,4.7l-4.7,-4.7z"/><path d="M676.2,1066.7L679.0,1060.0"/><path d="M679.0,1046.7L679.7,1059.2"/><circle cx="679.0" cy="1046.7" r="4.05"/><path d="M679.7,1059.2L682.5,1059.2"/><circle cx="679.7" cy="1059.2" r="4.05"/><path d="M679.0,1122.5L682.5,1115.0"/><path class="d" d="M679.0,1117.8l4.7,4.7l-4.7,4.7l-4.7,-4.7z"/><path d="M679.0,1060.0L682.5,1061.7"/><path d="M682.5,1059.2L685.5,1059.2"/><circle cx="682.5" cy="1059.2" r="4.05"/><path d="M682.5,1115.0L685.5,1115.0"/><path class="d" d="M682.5,1110.3l4.7,4.7l-4.7,4.7l-4.7,-4.7z"/><path d="M682.5,1061.7L685.5,1066.7"/><path d="M685.5,1059.2L688.3,1034.7"/><circle cx="685.5" cy="1059.2" r="4.05"/><path d="M685.5,1115.0L688.3,1115.0"/><path class="d" d="M685.5,1110.3l4.7,4.7l-4.7,4.7l-4.7,-4.7z"/><path d="M685.5,1066.7L688.3,1038.3"/><path d="M688.3,1034.7L691.3,1053.0"/><circle cx="688.3" cy="1034.7" r="4.05"/><path d="M688.3,1115.0L691.3,1114.0"/><path class="d" d="M688.3,1110.3l4.7,4.7l-4.7,4.7l-4.7,-4.7z"/><path d="M688.3,1038.3L691.3,1040.0"/><path d="M691.3,1053.0L694.5,1046.7"/><circle cx="691.3" cy="1053.0" r="4.05"/><path d="M691.3,1114.0L694.5,1100.0"/><path class="d" d="M691.3,1109.3l4.7,4.7l-4.7,4.7l-4.7,-4.7z"/><path d="M691.3,1040.0L694.5,1050.0"/><path d="M694.5,1046.7L697.5,1046.7"/><circle cx="694.5" cy="1046.7" r="4.05"/><path d="M694.5,1100.0L697.5,1092.5"/><path class="d" d="M694.5,1095.3l4.7,4.7l-4.7,4.7l-4.7,-4.7z"/><path d="M694.5,1050.0L697.5,1053.3"/><path d="M697.5,1046.7L700.5,1059.2"/><circle cx="697.5" cy="1046.7" r="4.05"/><path d="M697.5,1092.5L700.5,1085.0"/><path class="d" d="M697.5,1087.8l4.7,4.7l-4.7,4.7l-4.7,-4.7z"/><path d="M697.5,1053.3L700.5,1056.7"/><path d="M700.5,1059.2L703.7,1053.0"/><circle cx="700.5" cy="1059.2" r="4.05"/><path d="M700.5,1085.0L703.7,1062.5"/><path class="d" d="M700.5,1080.3l4.7,4.7l-4.7,4.7l-4.7,-4.7z"/><path d="M700.5,1056.7L703.7,1041.7"/><path d="M703.7,1053.0L706.7,1053.0"/><circle cx="703.7" cy="1053.0" r="4.05"/><path d="M703.7,1062.5L706.7,1077.5"/><path class="d" d="M703.7,1057.8l4.7,4.7l-4.7,4.7l-4.7,-4.7z"/><path d="M703.7,1041.7L706.7,1048.3"/><path d="M706.7,1053.0L710.0,1046.7"/><circle cx="706.7" cy="1053.0" r="4.05"/><path d="M706.7,1077.5L710.0,1077.5"/><path class="d" d="M706.7,1072.8l4.7,4.7l-4.7,4.7l-4.7,-4.7z"/><path d="M706.7,1048.3L710.0,1028.3"/><path d="M710.0,1046.7L713.0,1053.0"/><circle cx="710.0" cy="1046.7" r="4.05"/><path d="M710.0,1077.5L713.0,1070.0"/><path class="d" d="M710.0,1072.8l4.7,4.7l-4.7,4.7l-4.7,-4.7z"/><path d="M710.0,1028.3L713.0,1041.7"/><path d="M713.0,1053.0L716.2,1046.7"/><circle cx="713.0" cy="1053.0" r="4.05"/><path d="M713.0,1070.0L716.2,1055.0"/><path class="d" d="M713.0,1065.3l4.7,4.7l-4.7,4.7l-4.7,-4.7z"/><path d="M713.0,1041.7L716.2,1022.5"/><path d="M716.2,1046.7L719.2,1040.8"/><circle cx="716.2" cy="1046.7" r="4.05"/><path d="M716.2,1055.0L719.2,1040.0"/><path class="d" d="M716.2,1050.3l4.7,4.7l-4.7,4.7l-4.7,-4.7z"/><path d="M716.2,1022.5L719.2,1038.3"/><path d="M719.2,1040.8L722.2,1046.7"/><circle cx="719.2" cy="1040.8" r="4.05"/><path d="M719.2,1040.0L722.2,1040.0"/><path class="d" d="M719.2,1035.3l4.7,4.7l-4.7,4.7l-4.7,-4.7z"/><path d="M719.2,1038.3L722.2,1023.3"/><path d="M722.2,1046.7L725.3,1028.3"/><circle cx="722.2" cy="1046.7" r="4.05"/><path d="M722.2,1040.0L725.3,1023.3"/><path class="d" d="M722.2,1035.3l4.7,4.7l-4.7,4.7l-4.7,-4.7z"/><path d="M722.2,1023.3L725.3,1009.2"/><path d="M725.3,1028.3L728.3,1028.3"/><circle cx="725.3" cy="1028.3" r="4.05"/><path d="M725.3,1023.3L728.3,1055.0"/><path class="d" d="M725.3,1018.6l4.7,4.7l-4.7,4.7l-4.7,-4.7z"/><path d="M725.3,1009.2L728.3,1010.0"/><path d="M728.3,1028.3L731.3,1022.5"/><circle cx="728.3" cy="1028.3" r="4.05"/><path d="M728.3,1055.0L731.3,1033.3"/><path class="d" d="M728.3,1050.3l4.7,4.7l-4.7,4.7l-4.7,-4.7z"/><path d="M728.3,1010.0L731.3,1028.3"/><path d="M731.3,1022.5L734.5,1022.5"/><circle cx="731.3" cy="1022.5" r="4.05"/><path d="M731.3,1033.3L734.5,1031.7"/><path class="d" d="M731.3,1028.6l4.7,4.7l-4.7,4.7l-4.7,-4.7z"/><path d="M731.3,1028.3L734.5,1003.3"/><path d="M734.5,1022.5L737.5,1016.7"/><circle cx="734.5" cy="1022.5" r="4.05"/><path d="M734.5,1031.7L737.5,1047.5"/><path class="d" d="M734.5,1027.0l4.7,4.7l-4.7,4.7l-4.7,-4.7z"/><path d="M734.5,1003.3L737.5,1016.7"/><path d="M737.5,1016.7L740.5,1016.7"/><circle cx="737.5" cy="1016.7" r="4.05"/><path d="M737.5,1047.5L740.5,1031.7"/><path class="d" d="M737.5,1042.8l4.7,4.7l-4.7,4.7l-4.7,-4.7z"/><path d="M737.5,1016.7L740.5,1003.3"/><path d="M740.5,1016.7L743.7,1010.0"/><circle cx="740.5" cy="1016.7" r="4.05"/><path d="M740.5,1031.7L743.7,1024.2"/><path class="d" d="M740.5,1027.0l4.7,4.7l-4.7,4.7l-4.7,-4.7z"/><path d="M740.5,1003.3L743.7,1003.3"/><path d="M743.7,1010.0L746.7,1010.0"/><circle cx="743.7" cy="1010.0" r="4.05"/><path d="M743.7,1024.2L746.7,1016.7"/><path class="d" d="M743.7,1019.5l4.7,4.7l-4.7,4.7l-4.7,-4.7z"/><path d="M743.7,1003.3L746.7,1035.0"/><path d="M746.7,1010.0L749.7,1004.2"/><circle cx="746.7" cy="1010.0" r="4.05"/><path d="M746.7,1016.7L749.7,1008.3"/><path class="d" d="M746.7,1012.0l4.7,4.7l-4.7,4.7l-4.7,-4.7z"/><path d="M746.7,1035.0L749.7,1010.0"/><path d="M749.7,1004.2L752.8,998.3"/><circle cx="749.7" cy="1004.2" r="4.05"/><path d="M749.7,1008.3L752.8,1000.0"/><path class="d" d="M749.7,1003.6l4.7,4.7l-4.7,4.7l-4.7,-4.7z"/><path d="M749.7,1010.0L752.8,1010.0"/><path d="M752.8,998.3L755.8,1010.0"/><circle cx="752.8" cy="998.3" r="4.05"/><path d="M752.8,1000.0L755.8,985.0"/><path class="d" d="M752.8,995.3l4.7,4.7l-4.7,4.7l-4.7,-4.7z"/><path d="M752.8,1010.0L755.8,1028.3"/><path d="M755.8,1010.0L758.8,985.8"/><circle cx="755.8" cy="1010.0" r="4.05"/><path d="M755.8,985.0L758.8,992.5"/><path class="d" d="M755.8,980.3l4.7,4.7l-4.7,4.7l-4.7,-4.7z"/><path d="M755.8,1028.3L758.8,1013.3"/><path d="M758.8,985.8L762.0,991.7"/><circle cx="758.8" cy="985.8" r="4.05"/><path d="M758.8,992.5L762.0,1000.0"/><path class="d" d="M758.8,987.8l4.7,4.7l-4.7,4.7l-4.7,-4.7z"/><path d="M758.8,1013.3L762.0,1013.3"/><path d="M762.0,991.7L765.0,1022.5"/><circle cx="762.0" cy="991.7" r="4.05"/><path d="M762.0,1000.0L765.0,1031.7"/><path class="d" d="M762.0,995.3l4.7,4.7l-4.7,4.7l-4.7,-4.7z"/><path d="M762.0,1013.3L765.0,1023.3"/><path d="M765.0,1022.5L768.0,979.7"/><circle cx="765.0" cy="1022.5" r="4.05"/><path d="M765.0,1031.7L768.0,1008.3"/><path class="d" d="M765.0,1027.0l4.7,4.7l-4.7,4.7l-4.7,-4.7z"/><path d="M765.0,1023.3L768.0,1031.7"/><path d="M768.0,979.7L771.2,998.3"/><circle cx="768.0" cy="979.7" r="4.05"/><path d="M768.0,1008.3L771.2,1008.3"/><path class="d" d="M768.0,1003.6l4.7,4.7l-4.7,4.7l-4.7,-4.7z"/><path d="M768.0,1031.7L771.2,1041.7"/><path d="M771.2,998.3L774.2,991.7"/><circle cx="771.2" cy="998.3" r="4.05"/><path d="M771.2,1008.3L774.2,969.2"/><path class="d" d="M771.2,1003.6l4.7,4.7l-4.7,4.7l-4.7,-4.7z"/><path d="M771.2,1041.7L774.2,1041.7"/><path d="M774.2,991.7L777.2,991.7"/><circle cx="774.2" cy="991.7" r="4.05"/><path d="M774.2,969.2L777.2,1008.3"/><path class="d" d="M774.2,964.5l4.7,4.7l-4.7,4.7l-4.7,-4.7z"/><path d="M774.2,1041.7L777.2,1048.3"/><path d="M777.2,991.7L780.3,1010.0"/><circle cx="777.2" cy="991.7" r="4.05"/><path d="M777.2,1008.3L780.3,1024.2"/><path class="d" d="M777.2,1003.6l4.7,4.7l-4.7,4.7l-4.7,-4.7z"/><path d="M777.2,1048.3L780.3,1055.0"/><path d="M780.3,1010.0L783.3,991.7"/><circle cx="780.3" cy="1010.0" r="4.05"/><path d="M780.3,1024.2L783.3,1008.3"/><path class="d" d="M780.3,1019.5l4.7,4.7l-4.7,4.7l-4.7,-4.7z"/><path d="M780.3,1055.0L783.3,1023.3"/><path d="M783.3,991.7L786.3,1016.7"/><circle cx="783.3" cy="991.7" r="4.05"/><path d="M783.3,1008.3L786.3,1008.3"/><path class="d" d="M783.3,1003.6l4.7,4.7l-4.7,4.7l-4.7,-4.7z"/><path d="M783.3,1023.3L786.3,1041.7"/><path d="M786.3,1016.7L789.5,1016.7"/><circle cx="786.3" cy="1016.7" r="4.05"/><path d="M786.3,1008.3L789.5,1001.7"/><path class="d" d="M786.3,1003.6l4.7,4.7l-4.7,4.7l-4.7,-4.7z"/><path d="M786.3,1041.7L789.5,1016.7"/><path d="M789.5,1016.7L792.5,998.3"/><circle cx="789.5" cy="1016.7" r="4.05"/><path d="M789.5,1001.7L792.5,977.5"/><path class="d" d="M789.5,997.0l4.7,4.7l-4.7,4.7l-4.7,-4.7z"/><path d="M789.5,1016.7L792.5,1010.0"/><path d="M792.5,998.3L795.5,1010.0"/><circle cx="792.5" cy="998.3" r="4.05"/><path d="M792.5,977.5L795.5,985.0"/><path class="d" d="M792.5,972.8l4.7,4.7l-4.7,4.7l-4.7,-4.7z"/><path d="M792.5,1010.0L795.5,1010.0"/><path d="M795.5,1010.0L798.7,991.7"/><circle cx="795.5" cy="1010.0" r="4.05"/><path d="M795.5,985.0L798.7,985.0"/><path class="d" d="M795.5,980.3l4.7,4.7l-4.7,4.7l-4.7,-4.7z"/><path d="M795.5,1010.0L798.7,1008.3"/><path d="M798.7,991.7L801.7,998.3"/><circle cx="798.7" cy="991.7" r="4.05"/><path d="M798.7,985.0L801.7,985.0"/><path class="d" d="M798.7,980.3l4.7,4.7l-4.7,4.7l-4.7,-4.7z"/><path d="M798.7,1008.3L801.7,1022.5"/><path d="M801.7,998.3L804.7,1004.2"/><circle cx="801.7" cy="998.3" r="4.05"/><path d="M801.7,985.0L804.7,985.0"/><path class="d" d="M801.7,980.3l4.7,4.7l-4.7,4.7l-4.7,-4.7z"/><path d="M801.7,1022.5L804.7,995.0"/><path d="M804.7,1004.2L807.8,991.7"/><circle cx="804.7" cy="1004.2" r="4.05"/><path d="M804.7,985.0L807.8,985.0"/><path class="d" d="M804.7,980.3l4.7,4.7l-4.7,4.7l-4.7,-4.7z"/><path d="M804.7,995.0L807.8,1010.0"/><path d="M807.8,991.7L810.8,998.3"/><circle cx="807.8" cy="991.7" r="4.05"/><path d="M807.8,985.0L810.8,1008.3"/><path class="d" d="M807.8,980.3l4.7,4.7l-4.7,4.7l-4.7,-4.7z"/><path d="M807.8,1010.0L810.8,1010.0"/><path d="M810.8,998.3L813.8,991.7"/><circle cx="810.8" cy="998.3" r="4.05"/><path d="M810.8,1008.3L813.8,977.5"/><path class="d" d="M810.8,1003.6l4.7,4.7l-4.7,4.7l-4.7,-4.7z"/><path d="M810.8,1010.0L813.8,1028.3"/><path d="M813.8,991.7L816.7,998.3"/><circle cx="813.8" cy="991.7" r="4.05"/><path d="M813.8,977.5L816.7,970.0"/><path class="d" d="M813.8,972.8l4.7,4.7l-4.7,4.7l-4.7,-4.7z"/><path d="M813.8,1028.3L816.7,1016.7"/><path d="M816.7,998.3L819.0,991.7"/><circle cx="816.7" cy="998.3" r="4.05"/><path d="M819.0,991.7L819.8,985.8"/><circle cx="819.0" cy="991.7" r="4.05"/><path d="M816.7,970.0L819.0,962.5"/><path class="d" d="M816.7,965.3l4.7,4.7l-4.7,4.7l-4.7,-4.7z"/><path d="M819.0,962.5L819.8,961.8"/><path class="d" d="M819.0,957.8l4.7,4.7l-4.7,4.7l-4.7,-4.7z"/><path d="M816.7,1016.7L819.0,1003.3"/><path d="M819.0,1003.3L819.8,1002.7"/><path d="M819.8,985.8L823.0,966.9"/><circle cx="819.8" cy="985.8" r="4.05"/><path d="M819.8,961.8L823.0,993.4"/><path class="d" d="M819.8,957.1l4.7,4.7l-4.7,4.7l-4.7,-4.7z"/><path d="M819.8,1002.7L823.0,1015.3"/><path d="M823.0,966.9L826.0,979.5"/><circle cx="823.0" cy="966.9" r="4.05"/><path d="M823.0,993.4L826.0,993.4"/><path class="d" d="M823.0,988.7l4.7,4.7l-4.7,4.7l-4.7,-4.7z"/><path d="M823.0,1015.3L826.0,1016.0"/><path d="M826.0,979.5L829.1,960.6"/><circle cx="826.0" cy="979.5" r="4.05"/><path d="M826.0,993.4L829.1,973.2"/><path class="d" d="M826.0,988.7l4.7,4.7l-4.7,4.7l-4.7,-4.7z"/><path d="M826.0,1016.0L829.1,1048.1"/><path d="M829.1,960.6L832.2,954.9"/><circle cx="829.1" cy="960.6" r="4.05"/><path d="M829.1,973.2L832.2,979.5"/><path class="d" d="M829.1,968.5l4.7,4.7l-4.7,4.7l-4.7,-4.7z"/><path d="M829.1,1048.1L832.2,1029.2"/><path d="M832.2,954.9L835.2,942.3"/><circle cx="832.2" cy="954.9" r="4.05"/><path d="M832.2,979.5L835.2,946.7"/><path class="d" d="M832.2,974.8l4.7,4.7l-4.7,4.7l-4.7,-4.7z"/><path d="M832.2,1029.2L835.2,1041.8"/><path d="M835.2,942.3L838.3,930.3"/><circle cx="835.2" cy="942.3" r="4.05"/><path d="M835.2,946.7L838.3,977.0"/><path class="d" d="M835.2,942.0l4.7,4.7l-4.7,4.7l-4.7,-4.7z"/><path d="M835.2,1041.8L838.3,1041.8"/><path d="M838.3,930.3L841.4,936.6"/><circle cx="838.3" cy="930.3" r="4.05"/><path d="M838.3,977.0L841.4,946.7"/><path class="d" d="M838.3,972.3l4.7,4.7l-4.7,4.7l-4.7,-4.7z"/><path d="M838.3,1041.8L841.4,1016.0"/><path d="M841.4,936.6L844.4,942.3"/><circle cx="841.4" cy="936.6" r="4.05"/><path d="M841.4,946.7L844.4,961.8"/><path class="d" d="M841.4,942.0l4.7,4.7l-4.7,4.7l-4.7,-4.7z"/><path d="M841.4,1016.0L844.4,1067.0"/><path d="M844.4,942.3L847.5,917.7"/><circle cx="844.4" cy="942.3" r="4.05"/><path d="M844.4,961.8L847.5,978.2"/><path class="d" d="M844.4,957.1l4.7,4.7l-4.7,4.7l-4.7,-4.7z"/><path d="M844.4,1067.0L847.5,1054.4"/><path d="M847.5,917.7L850.6,936.6"/><circle cx="847.5" cy="917.7" r="4.05"/><path d="M847.5,978.2L850.6,946.7"/><path class="d" d="M847.5,973.5l4.7,4.7l-4.7,4.7l-4.7,-4.7z"/><path d="M847.5,1054.4L850.6,1060.7"/><path d="M850.6,936.6L853.7,924.0"/><circle cx="850.6" cy="936.6" r="4.05"/><path d="M850.6,946.7L853.7,969.4"/><path class="d" d="M850.6,942.0l4.7,4.7l-4.7,4.7l-4.7,-4.7z"/><path d="M850.6,1060.7L853.7,1060.7"/><path d="M853.7,924.0L856.7,948.6"/><circle cx="853.7" cy="924.0" r="4.05"/><path d="M853.7,969.4L856.7,985.8"/><path class="d" d="M853.7,964.7l4.7,4.7l-4.7,4.7l-4.7,-4.7z"/><path d="M853.7,1060.7L856.7,1054.4"/><circle cx="856.7" cy="948.6" r="4.05"/><path class="d" d="M856.7,981.1l4.7,4.7l-4.7,4.7l-4.7,-4.7z"/>
</g>
<line x1="136.2" y1="678" x2="136.2" y2="1169.9" class="kb"/>
<line x1="198.8" y1="678" x2="198.8" y2="1169.9" class="kb"/>
<line x1="262.7" y1="678" x2="262.7" y2="1169.9" class="kb"/>
<line x1="321.3" y1="678" x2="321.3" y2="1169.9" class="kb"/>
<line x1="382.5" y1="678" x2="382.5" y2="1169.9" class="kb"/>
<line x1="443.8" y1="678" x2="443.8" y2="1169.9" class="kb"/>
<line x1="629.7" y1="678" x2="629.7" y2="1169.9" class="kb"/>
<line x1="766.1" y1="678" x2="766.1" y2="1169.9" class="kb"/>
<line x1="198" y1="678" x2="198" y2="787.5" class="kb" style="stroke-width:1.8"/>
<rect x="288" y="670.6" width="574" height="42.69999999999993" fill="#fff" stroke="#6a6a6a" stroke-width="2"/>
<line x1="307" y1="692.3" x2="331.4" y2="692.3" class="lnb" style="stroke-width:2.4"/>
<g class="cib"><circle cx="319.2" cy="692.3" r="4.2"/></g>
<text x="331.4" y="698.8" class="lt" textLength="157" lengthAdjust="spacingAndGlyphs">LOW-child (N=25)</text>
<line x1="502.2" y1="692.3" x2="528.3" y2="692.3" class="lnb" style="stroke-width:2.4"/>
<g class="di"><path d="M515.2,688.0l4.3,4.3l-4.3,4.3l-4.3,-4.3z"/></g>
<text x="528.3" y="698.8" class="lt" textLength="162.2" lengthAdjust="spacingAndGlyphs">HIGH-child (N=20)</text>
<line x1="703.7" y1="692.3" x2="728" y2="692.3" class="lnb" style="stroke-width:2.4"/>
<text x="729.9" y="698.8" class="lt" textLength="119.8" lengthAdjust="spacingAndGlyphs">Adults (N=24)</text>
</g>
</svg>
</body></html>
